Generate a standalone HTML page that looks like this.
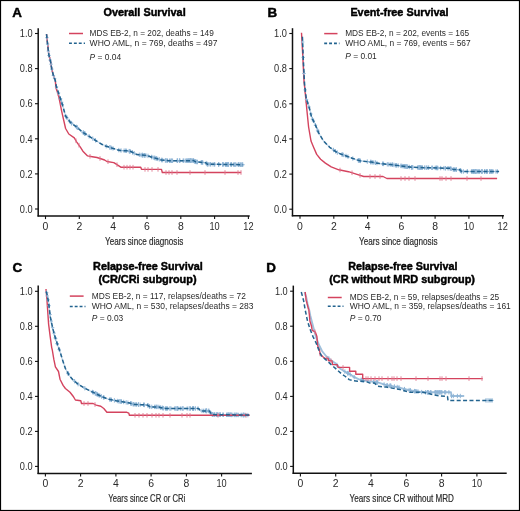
<!DOCTYPE html>
<html><head><meta charset="utf-8"><style>
html,body{margin:0;padding:0;background:#fff;}
svg{display:block;will-change:transform;}
text{font-family:"Liberation Sans", sans-serif;}
</style></head><body>
<svg width="520" height="511" viewBox="0 0 520 511" font-family='"Liberation Sans", sans-serif'>
<rect x="0" y="0" width="520" height="511" fill="#fff"/>
<rect x="0.5" y="0.5" width="519" height="510" fill="none" stroke="#000" stroke-width="1.2"/>
<text x="12.2" y="17.4" font-size="13.4" text-anchor="start" font-weight="bold" font-style="normal" fill="#000" stroke="#000" stroke-width="0.45" stroke-linejoin="round">A</text>
<text x="103.5" y="15.9" font-size="11.0" text-anchor="start" font-weight="bold" font-style="normal" fill="#000" textLength="82.2" lengthAdjust="spacingAndGlyphs" stroke="#000" stroke-width="0.45" stroke-linejoin="round">Overall Survival</text>
<line x1="38.2" y1="28.2" x2="38.2" y2="216.6" stroke="#111" stroke-width="1.5" />
<line x1="37.5" y1="215.9" x2="249.7" y2="215.9" stroke="#111" stroke-width="1.5" />
<line x1="35.0" y1="209.0" x2="38.2" y2="209.0" stroke="#111" stroke-width="1.1" />
<text x="32.6" y="212.7" font-size="10" text-anchor="end" font-weight="normal" font-style="normal" fill="#2a2a2a" textLength="12.8" lengthAdjust="spacingAndGlyphs">0.0</text>
<line x1="35.0" y1="173.9" x2="38.2" y2="173.9" stroke="#111" stroke-width="1.1" />
<text x="32.6" y="177.6" font-size="10" text-anchor="end" font-weight="normal" font-style="normal" fill="#2a2a2a" textLength="12.8" lengthAdjust="spacingAndGlyphs">0.2</text>
<line x1="35.0" y1="138.8" x2="38.2" y2="138.8" stroke="#111" stroke-width="1.1" />
<text x="32.6" y="142.5" font-size="10" text-anchor="end" font-weight="normal" font-style="normal" fill="#2a2a2a" textLength="12.8" lengthAdjust="spacingAndGlyphs">0.4</text>
<line x1="35.0" y1="103.7" x2="38.2" y2="103.7" stroke="#111" stroke-width="1.1" />
<text x="32.6" y="107.4" font-size="10" text-anchor="end" font-weight="normal" font-style="normal" fill="#2a2a2a" textLength="12.8" lengthAdjust="spacingAndGlyphs">0.6</text>
<line x1="35.0" y1="68.6" x2="38.2" y2="68.6" stroke="#111" stroke-width="1.1" />
<text x="32.6" y="72.3" font-size="10" text-anchor="end" font-weight="normal" font-style="normal" fill="#2a2a2a" textLength="12.8" lengthAdjust="spacingAndGlyphs">0.8</text>
<line x1="35.0" y1="33.5" x2="38.2" y2="33.5" stroke="#111" stroke-width="1.1" />
<text x="32.6" y="37.2" font-size="10" text-anchor="end" font-weight="normal" font-style="normal" fill="#2a2a2a" textLength="12.8" lengthAdjust="spacingAndGlyphs">1.0</text>
<line x1="45.5" y1="215.9" x2="45.5" y2="219.1" stroke="#111" stroke-width="1.1" />
<text x="45.5" y="229.9" font-size="10" text-anchor="middle" font-weight="normal" font-style="normal" fill="#2a2a2a" textLength="5.8" lengthAdjust="spacingAndGlyphs">0</text>
<line x1="79.3" y1="215.9" x2="79.3" y2="219.1" stroke="#111" stroke-width="1.1" />
<text x="79.3" y="229.9" font-size="10" text-anchor="middle" font-weight="normal" font-style="normal" fill="#2a2a2a" textLength="5.8" lengthAdjust="spacingAndGlyphs">2</text>
<line x1="113.1" y1="215.9" x2="113.1" y2="219.1" stroke="#111" stroke-width="1.1" />
<text x="113.1" y="229.9" font-size="10" text-anchor="middle" font-weight="normal" font-style="normal" fill="#2a2a2a" textLength="5.8" lengthAdjust="spacingAndGlyphs">4</text>
<line x1="147.0" y1="215.9" x2="147.0" y2="219.1" stroke="#111" stroke-width="1.1" />
<text x="147.0" y="229.9" font-size="10" text-anchor="middle" font-weight="normal" font-style="normal" fill="#2a2a2a" textLength="5.8" lengthAdjust="spacingAndGlyphs">6</text>
<line x1="180.8" y1="215.9" x2="180.8" y2="219.1" stroke="#111" stroke-width="1.1" />
<text x="180.8" y="229.9" font-size="10" text-anchor="middle" font-weight="normal" font-style="normal" fill="#2a2a2a" textLength="5.8" lengthAdjust="spacingAndGlyphs">8</text>
<line x1="214.6" y1="215.9" x2="214.6" y2="219.1" stroke="#111" stroke-width="1.1" />
<text x="214.6" y="229.9" font-size="10" text-anchor="middle" font-weight="normal" font-style="normal" fill="#2a2a2a" textLength="10.2" lengthAdjust="spacingAndGlyphs">10</text>
<line x1="248.4" y1="215.9" x2="248.4" y2="219.1" stroke="#111" stroke-width="1.1" />
<text x="248.4" y="229.9" font-size="10" text-anchor="middle" font-weight="normal" font-style="normal" fill="#2a2a2a" textLength="10.2" lengthAdjust="spacingAndGlyphs">12</text>
<text x="144.2" y="244.6" font-size="11.2" text-anchor="middle" font-weight="normal" font-style="normal" fill="#2a2a2a" textLength="78.2" lengthAdjust="spacingAndGlyphs" stroke="#2a2a2a" stroke-width="0.2" stroke-linejoin="round">Years since diagnosis</text>
<line x1="69" y1="33.5" x2="83" y2="33.5" stroke="#d4435e" stroke-width="1.5" />
<line x1="69" y1="43.3" x2="85" y2="43.3" stroke="#22638f" stroke-width="1.6" stroke-dasharray="2.9 2"/>
<text x="89.6" y="35.9" font-size="8.5" text-anchor="start" font-weight="normal" font-style="normal" fill="#2a2a2a" textLength="124.2" lengthAdjust="spacingAndGlyphs">MDS EB-2, n = 202, deaths = 149</text>
<text x="89.6" y="45.9" font-size="8.5" text-anchor="start" font-weight="normal" font-style="normal" fill="#2a2a2a" textLength="127.9" lengthAdjust="spacingAndGlyphs">WHO AML, n = 769, deaths = 497</text>
<text x="89.6" y="59.5" font-size="8.5" text-anchor="start" font-weight="normal" font-style="normal" fill="#2a2a2a" textLength="31.6" lengthAdjust="spacingAndGlyphs"><tspan font-style="italic">P</tspan> = 0.04</text>
<path d="M46.5,34.1 L47.6,44.1 L48.8,54.6 L50.6,61.7 L51.7,68.7 L53.5,75.8 L55.3,80.5 L56.3,86.3 L59.4,95.6 L62.5,105.0 L65.6,116.0 L70.3,122.3 L76.6,127.0 L82.9,132.4 L89.1,136.3 L95.4,140.3 L101.6,144.2 L106.2,146.2 L112.3,148.2 L120.0,150.5 L127.7,150.8 L130.8,151.5 L136.9,154.6 L146.2,155.4 L153.8,157.7 L161.5,160.0 L169.2,160.8 L193.5,160.6 L195.8,161.9 L205.8,162.7 L207.3,164.2 L243.0,164.7" fill="none" stroke="#c3d8ea" stroke-width="1.3" stroke-linejoin="round" />
<line x1="60.4" y1="96.5" x2="60.4" y2="100.9" stroke="#8fb5d6" stroke-width="1.0" />
<line x1="58.7" y1="98.7" x2="62.1" y2="98.7" stroke="#8fb5d6" stroke-width="1.0" />
<line x1="61.6" y1="100.0" x2="61.6" y2="104.4" stroke="#8fb5d6" stroke-width="1.0" />
<line x1="59.9" y1="102.2" x2="63.3" y2="102.2" stroke="#8fb5d6" stroke-width="1.0" />
<line x1="65.8" y1="114.0" x2="65.8" y2="118.4" stroke="#8fb5d6" stroke-width="1.0" />
<line x1="64.1" y1="116.2" x2="67.5" y2="116.2" stroke="#8fb5d6" stroke-width="1.0" />
<line x1="66.9" y1="115.6" x2="66.9" y2="120.0" stroke="#8fb5d6" stroke-width="1.0" />
<line x1="65.2" y1="117.8" x2="68.6" y2="117.8" stroke="#8fb5d6" stroke-width="1.0" />
<line x1="69.4" y1="118.9" x2="69.4" y2="123.3" stroke="#8fb5d6" stroke-width="1.0" />
<line x1="67.7" y1="121.1" x2="71.1" y2="121.1" stroke="#8fb5d6" stroke-width="1.0" />
<line x1="71.4" y1="120.9" x2="71.4" y2="125.3" stroke="#8fb5d6" stroke-width="1.0" />
<line x1="69.7" y1="123.1" x2="73.1" y2="123.1" stroke="#8fb5d6" stroke-width="1.0" />
<line x1="71.6" y1="121.0" x2="71.6" y2="125.4" stroke="#8fb5d6" stroke-width="1.0" />
<line x1="69.9" y1="123.2" x2="73.3" y2="123.2" stroke="#8fb5d6" stroke-width="1.0" />
<line x1="76.4" y1="124.7" x2="76.4" y2="129.1" stroke="#8fb5d6" stroke-width="1.0" />
<line x1="74.7" y1="126.9" x2="78.1" y2="126.9" stroke="#8fb5d6" stroke-width="1.0" />
<line x1="77.2" y1="125.3" x2="77.2" y2="129.7" stroke="#8fb5d6" stroke-width="1.0" />
<line x1="75.5" y1="127.5" x2="78.9" y2="127.5" stroke="#8fb5d6" stroke-width="1.0" />
<line x1="77.5" y1="125.5" x2="77.5" y2="129.9" stroke="#8fb5d6" stroke-width="1.0" />
<line x1="75.8" y1="127.7" x2="79.2" y2="127.7" stroke="#8fb5d6" stroke-width="1.0" />
<line x1="83.3" y1="130.4" x2="83.3" y2="134.8" stroke="#8fb5d6" stroke-width="1.0" />
<line x1="81.6" y1="132.6" x2="85.0" y2="132.6" stroke="#8fb5d6" stroke-width="1.0" />
<line x1="83.4" y1="130.5" x2="83.4" y2="134.9" stroke="#8fb5d6" stroke-width="1.0" />
<line x1="81.7" y1="132.7" x2="85.1" y2="132.7" stroke="#8fb5d6" stroke-width="1.0" />
<line x1="84.5" y1="131.2" x2="84.5" y2="135.6" stroke="#8fb5d6" stroke-width="1.0" />
<line x1="82.8" y1="133.4" x2="86.2" y2="133.4" stroke="#8fb5d6" stroke-width="1.0" />
<line x1="84.7" y1="131.3" x2="84.7" y2="135.7" stroke="#8fb5d6" stroke-width="1.0" />
<line x1="83.0" y1="133.5" x2="86.4" y2="133.5" stroke="#8fb5d6" stroke-width="1.0" />
<line x1="85.2" y1="131.6" x2="85.2" y2="136.0" stroke="#8fb5d6" stroke-width="1.0" />
<line x1="83.5" y1="133.8" x2="86.9" y2="133.8" stroke="#8fb5d6" stroke-width="1.0" />
<line x1="89.1" y1="134.1" x2="89.1" y2="138.5" stroke="#8fb5d6" stroke-width="1.0" />
<line x1="87.4" y1="136.3" x2="90.8" y2="136.3" stroke="#8fb5d6" stroke-width="1.0" />
<line x1="92.8" y1="136.4" x2="92.8" y2="140.8" stroke="#8fb5d6" stroke-width="1.0" />
<line x1="91.1" y1="138.6" x2="94.5" y2="138.6" stroke="#8fb5d6" stroke-width="1.0" />
<line x1="95.5" y1="138.1" x2="95.5" y2="142.5" stroke="#8fb5d6" stroke-width="1.0" />
<line x1="93.8" y1="140.3" x2="97.2" y2="140.3" stroke="#8fb5d6" stroke-width="1.0" />
<line x1="106.2" y1="144.0" x2="106.2" y2="148.4" stroke="#8fb5d6" stroke-width="1.0" />
<line x1="104.5" y1="146.2" x2="107.9" y2="146.2" stroke="#8fb5d6" stroke-width="1.0" />
<line x1="109.9" y1="145.2" x2="109.9" y2="149.6" stroke="#8fb5d6" stroke-width="1.0" />
<line x1="108.2" y1="147.4" x2="111.6" y2="147.4" stroke="#8fb5d6" stroke-width="1.0" />
<line x1="110.0" y1="145.2" x2="110.0" y2="149.6" stroke="#8fb5d6" stroke-width="1.0" />
<line x1="108.3" y1="147.4" x2="111.7" y2="147.4" stroke="#8fb5d6" stroke-width="1.0" />
<line x1="111.3" y1="145.7" x2="111.3" y2="150.1" stroke="#8fb5d6" stroke-width="1.0" />
<line x1="109.6" y1="147.9" x2="113.0" y2="147.9" stroke="#8fb5d6" stroke-width="1.0" />
<line x1="113.0" y1="146.2" x2="113.0" y2="150.6" stroke="#8fb5d6" stroke-width="1.0" />
<line x1="111.3" y1="148.4" x2="114.7" y2="148.4" stroke="#8fb5d6" stroke-width="1.0" />
<line x1="118.8" y1="147.9" x2="118.8" y2="152.3" stroke="#8fb5d6" stroke-width="1.0" />
<line x1="117.1" y1="150.1" x2="120.5" y2="150.1" stroke="#8fb5d6" stroke-width="1.0" />
<line x1="121.0" y1="148.3" x2="121.0" y2="152.7" stroke="#8fb5d6" stroke-width="1.0" />
<line x1="119.3" y1="150.5" x2="122.7" y2="150.5" stroke="#8fb5d6" stroke-width="1.0" />
<line x1="124.1" y1="148.5" x2="124.1" y2="152.9" stroke="#8fb5d6" stroke-width="1.0" />
<line x1="122.4" y1="150.7" x2="125.8" y2="150.7" stroke="#8fb5d6" stroke-width="1.0" />
<line x1="125.4" y1="148.5" x2="125.4" y2="152.9" stroke="#8fb5d6" stroke-width="1.0" />
<line x1="123.7" y1="150.7" x2="127.1" y2="150.7" stroke="#8fb5d6" stroke-width="1.0" />
<line x1="126.6" y1="148.6" x2="126.6" y2="153.0" stroke="#8fb5d6" stroke-width="1.0" />
<line x1="124.9" y1="150.8" x2="128.3" y2="150.8" stroke="#8fb5d6" stroke-width="1.0" />
<line x1="129.1" y1="148.9" x2="129.1" y2="153.3" stroke="#8fb5d6" stroke-width="1.0" />
<line x1="127.4" y1="151.1" x2="130.8" y2="151.1" stroke="#8fb5d6" stroke-width="1.0" />
<line x1="129.8" y1="149.1" x2="129.8" y2="153.5" stroke="#8fb5d6" stroke-width="1.0" />
<line x1="128.1" y1="151.3" x2="131.5" y2="151.3" stroke="#8fb5d6" stroke-width="1.0" />
<line x1="129.8" y1="149.1" x2="129.8" y2="153.5" stroke="#8fb5d6" stroke-width="1.0" />
<line x1="128.1" y1="151.3" x2="131.5" y2="151.3" stroke="#8fb5d6" stroke-width="1.0" />
<line x1="130.0" y1="149.1" x2="130.0" y2="153.5" stroke="#8fb5d6" stroke-width="1.0" />
<line x1="128.3" y1="151.3" x2="131.7" y2="151.3" stroke="#8fb5d6" stroke-width="1.0" />
<line x1="132.5" y1="150.2" x2="132.5" y2="154.6" stroke="#8fb5d6" stroke-width="1.0" />
<line x1="130.8" y1="152.4" x2="134.2" y2="152.4" stroke="#8fb5d6" stroke-width="1.0" />
<line x1="134.2" y1="151.0" x2="134.2" y2="155.4" stroke="#8fb5d6" stroke-width="1.0" />
<line x1="132.5" y1="153.2" x2="135.9" y2="153.2" stroke="#8fb5d6" stroke-width="1.0" />
<line x1="139.3" y1="152.6" x2="139.3" y2="157.0" stroke="#8fb5d6" stroke-width="1.0" />
<line x1="137.6" y1="154.8" x2="141.0" y2="154.8" stroke="#8fb5d6" stroke-width="1.0" />
<line x1="141.0" y1="152.8" x2="141.0" y2="157.2" stroke="#8fb5d6" stroke-width="1.0" />
<line x1="139.3" y1="155.0" x2="142.7" y2="155.0" stroke="#8fb5d6" stroke-width="1.0" />
<line x1="142.3" y1="152.9" x2="142.3" y2="157.3" stroke="#8fb5d6" stroke-width="1.0" />
<line x1="140.6" y1="155.1" x2="144.0" y2="155.1" stroke="#8fb5d6" stroke-width="1.0" />
<line x1="142.4" y1="152.9" x2="142.4" y2="157.3" stroke="#8fb5d6" stroke-width="1.0" />
<line x1="140.7" y1="155.1" x2="144.1" y2="155.1" stroke="#8fb5d6" stroke-width="1.0" />
<line x1="142.4" y1="152.9" x2="142.4" y2="157.3" stroke="#8fb5d6" stroke-width="1.0" />
<line x1="140.7" y1="155.1" x2="144.1" y2="155.1" stroke="#8fb5d6" stroke-width="1.0" />
<line x1="142.4" y1="152.9" x2="142.4" y2="157.3" stroke="#8fb5d6" stroke-width="1.0" />
<line x1="140.7" y1="155.1" x2="144.1" y2="155.1" stroke="#8fb5d6" stroke-width="1.0" />
<line x1="144.0" y1="153.0" x2="144.0" y2="157.4" stroke="#8fb5d6" stroke-width="1.0" />
<line x1="142.3" y1="155.2" x2="145.7" y2="155.2" stroke="#8fb5d6" stroke-width="1.0" />
<line x1="144.1" y1="153.0" x2="144.1" y2="157.4" stroke="#8fb5d6" stroke-width="1.0" />
<line x1="142.4" y1="155.2" x2="145.8" y2="155.2" stroke="#8fb5d6" stroke-width="1.0" />
<line x1="144.6" y1="153.1" x2="144.6" y2="157.5" stroke="#8fb5d6" stroke-width="1.0" />
<line x1="142.9" y1="155.3" x2="146.3" y2="155.3" stroke="#8fb5d6" stroke-width="1.0" />
<line x1="144.8" y1="153.1" x2="144.8" y2="157.5" stroke="#8fb5d6" stroke-width="1.0" />
<line x1="143.1" y1="155.3" x2="146.5" y2="155.3" stroke="#8fb5d6" stroke-width="1.0" />
<line x1="145.9" y1="153.2" x2="145.9" y2="157.6" stroke="#8fb5d6" stroke-width="1.0" />
<line x1="144.2" y1="155.4" x2="147.6" y2="155.4" stroke="#8fb5d6" stroke-width="1.0" />
<line x1="148.0" y1="153.7" x2="148.0" y2="158.1" stroke="#8fb5d6" stroke-width="1.0" />
<line x1="146.3" y1="155.9" x2="149.7" y2="155.9" stroke="#8fb5d6" stroke-width="1.0" />
<line x1="151.6" y1="154.8" x2="151.6" y2="159.2" stroke="#8fb5d6" stroke-width="1.0" />
<line x1="149.9" y1="157.0" x2="153.3" y2="157.0" stroke="#8fb5d6" stroke-width="1.0" />
<line x1="151.9" y1="154.9" x2="151.9" y2="159.3" stroke="#8fb5d6" stroke-width="1.0" />
<line x1="150.2" y1="157.1" x2="153.6" y2="157.1" stroke="#8fb5d6" stroke-width="1.0" />
<line x1="153.9" y1="155.5" x2="153.9" y2="159.9" stroke="#8fb5d6" stroke-width="1.0" />
<line x1="152.2" y1="157.7" x2="155.6" y2="157.7" stroke="#8fb5d6" stroke-width="1.0" />
<line x1="154.8" y1="155.8" x2="154.8" y2="160.2" stroke="#8fb5d6" stroke-width="1.0" />
<line x1="153.1" y1="158.0" x2="156.5" y2="158.0" stroke="#8fb5d6" stroke-width="1.0" />
<line x1="154.9" y1="155.8" x2="154.9" y2="160.2" stroke="#8fb5d6" stroke-width="1.0" />
<line x1="153.2" y1="158.0" x2="156.6" y2="158.0" stroke="#8fb5d6" stroke-width="1.0" />
<line x1="156.2" y1="156.2" x2="156.2" y2="160.6" stroke="#8fb5d6" stroke-width="1.0" />
<line x1="154.5" y1="158.4" x2="157.9" y2="158.4" stroke="#8fb5d6" stroke-width="1.0" />
<line x1="156.3" y1="156.2" x2="156.3" y2="160.6" stroke="#8fb5d6" stroke-width="1.0" />
<line x1="154.6" y1="158.4" x2="158.0" y2="158.4" stroke="#8fb5d6" stroke-width="1.0" />
<line x1="157.7" y1="156.7" x2="157.7" y2="161.1" stroke="#8fb5d6" stroke-width="1.0" />
<line x1="156.0" y1="158.9" x2="159.4" y2="158.9" stroke="#8fb5d6" stroke-width="1.0" />
<line x1="159.3" y1="157.1" x2="159.3" y2="161.5" stroke="#8fb5d6" stroke-width="1.0" />
<line x1="157.6" y1="159.3" x2="161.0" y2="159.3" stroke="#8fb5d6" stroke-width="1.0" />
<line x1="161.4" y1="157.8" x2="161.4" y2="162.2" stroke="#8fb5d6" stroke-width="1.0" />
<line x1="159.7" y1="160.0" x2="163.1" y2="160.0" stroke="#8fb5d6" stroke-width="1.0" />
<line x1="161.9" y1="157.8" x2="161.9" y2="162.2" stroke="#8fb5d6" stroke-width="1.0" />
<line x1="160.2" y1="160.0" x2="163.6" y2="160.0" stroke="#8fb5d6" stroke-width="1.0" />
<line x1="162.7" y1="157.9" x2="162.7" y2="162.3" stroke="#8fb5d6" stroke-width="1.0" />
<line x1="161.0" y1="160.1" x2="164.4" y2="160.1" stroke="#8fb5d6" stroke-width="1.0" />
<line x1="165.3" y1="158.2" x2="165.3" y2="162.6" stroke="#8fb5d6" stroke-width="1.0" />
<line x1="163.6" y1="160.4" x2="167.0" y2="160.4" stroke="#8fb5d6" stroke-width="1.0" />
<line x1="166.0" y1="158.3" x2="166.0" y2="162.7" stroke="#8fb5d6" stroke-width="1.0" />
<line x1="164.3" y1="160.5" x2="167.7" y2="160.5" stroke="#8fb5d6" stroke-width="1.0" />
<line x1="166.1" y1="158.3" x2="166.1" y2="162.7" stroke="#8fb5d6" stroke-width="1.0" />
<line x1="164.4" y1="160.5" x2="167.8" y2="160.5" stroke="#8fb5d6" stroke-width="1.0" />
<line x1="167.5" y1="158.4" x2="167.5" y2="162.8" stroke="#8fb5d6" stroke-width="1.0" />
<line x1="165.8" y1="160.6" x2="169.2" y2="160.6" stroke="#8fb5d6" stroke-width="1.0" />
<line x1="169.4" y1="158.6" x2="169.4" y2="163.0" stroke="#8fb5d6" stroke-width="1.0" />
<line x1="167.7" y1="160.8" x2="171.1" y2="160.8" stroke="#8fb5d6" stroke-width="1.0" />
<line x1="170.1" y1="158.6" x2="170.1" y2="163.0" stroke="#8fb5d6" stroke-width="1.0" />
<line x1="168.4" y1="160.8" x2="171.8" y2="160.8" stroke="#8fb5d6" stroke-width="1.0" />
<line x1="171.0" y1="158.6" x2="171.0" y2="163.0" stroke="#8fb5d6" stroke-width="1.0" />
<line x1="169.3" y1="160.8" x2="172.7" y2="160.8" stroke="#8fb5d6" stroke-width="1.0" />
<line x1="171.6" y1="158.6" x2="171.6" y2="163.0" stroke="#8fb5d6" stroke-width="1.0" />
<line x1="169.9" y1="160.8" x2="173.3" y2="160.8" stroke="#8fb5d6" stroke-width="1.0" />
<line x1="172.0" y1="158.6" x2="172.0" y2="163.0" stroke="#8fb5d6" stroke-width="1.0" />
<line x1="170.3" y1="160.8" x2="173.7" y2="160.8" stroke="#8fb5d6" stroke-width="1.0" />
<line x1="172.6" y1="158.6" x2="172.6" y2="163.0" stroke="#8fb5d6" stroke-width="1.0" />
<line x1="170.9" y1="160.8" x2="174.3" y2="160.8" stroke="#8fb5d6" stroke-width="1.0" />
<line x1="177.2" y1="158.5" x2="177.2" y2="162.9" stroke="#8fb5d6" stroke-width="1.0" />
<line x1="175.5" y1="160.7" x2="178.9" y2="160.7" stroke="#8fb5d6" stroke-width="1.0" />
<line x1="177.4" y1="158.5" x2="177.4" y2="162.9" stroke="#8fb5d6" stroke-width="1.0" />
<line x1="175.7" y1="160.7" x2="179.1" y2="160.7" stroke="#8fb5d6" stroke-width="1.0" />
<line x1="177.4" y1="158.5" x2="177.4" y2="162.9" stroke="#8fb5d6" stroke-width="1.0" />
<line x1="175.7" y1="160.7" x2="179.1" y2="160.7" stroke="#8fb5d6" stroke-width="1.0" />
<line x1="179.4" y1="158.5" x2="179.4" y2="162.9" stroke="#8fb5d6" stroke-width="1.0" />
<line x1="177.7" y1="160.7" x2="181.1" y2="160.7" stroke="#8fb5d6" stroke-width="1.0" />
<line x1="179.6" y1="158.5" x2="179.6" y2="162.9" stroke="#8fb5d6" stroke-width="1.0" />
<line x1="177.9" y1="160.7" x2="181.3" y2="160.7" stroke="#8fb5d6" stroke-width="1.0" />
<line x1="179.9" y1="158.5" x2="179.9" y2="162.9" stroke="#8fb5d6" stroke-width="1.0" />
<line x1="178.2" y1="160.7" x2="181.6" y2="160.7" stroke="#8fb5d6" stroke-width="1.0" />
<line x1="183.1" y1="158.5" x2="183.1" y2="162.9" stroke="#8fb5d6" stroke-width="1.0" />
<line x1="181.4" y1="160.7" x2="184.8" y2="160.7" stroke="#8fb5d6" stroke-width="1.0" />
<line x1="183.7" y1="158.5" x2="183.7" y2="162.9" stroke="#8fb5d6" stroke-width="1.0" />
<line x1="182.0" y1="160.7" x2="185.4" y2="160.7" stroke="#8fb5d6" stroke-width="1.0" />
<line x1="185.3" y1="158.5" x2="185.3" y2="162.9" stroke="#8fb5d6" stroke-width="1.0" />
<line x1="183.6" y1="160.7" x2="187.0" y2="160.7" stroke="#8fb5d6" stroke-width="1.0" />
<line x1="186.8" y1="158.5" x2="186.8" y2="162.9" stroke="#8fb5d6" stroke-width="1.0" />
<line x1="185.1" y1="160.7" x2="188.5" y2="160.7" stroke="#8fb5d6" stroke-width="1.0" />
<line x1="186.8" y1="158.5" x2="186.8" y2="162.9" stroke="#8fb5d6" stroke-width="1.0" />
<line x1="185.1" y1="160.7" x2="188.5" y2="160.7" stroke="#8fb5d6" stroke-width="1.0" />
<line x1="187.4" y1="158.5" x2="187.4" y2="162.9" stroke="#8fb5d6" stroke-width="1.0" />
<line x1="185.7" y1="160.7" x2="189.1" y2="160.7" stroke="#8fb5d6" stroke-width="1.0" />
<line x1="188.4" y1="158.4" x2="188.4" y2="162.8" stroke="#8fb5d6" stroke-width="1.0" />
<line x1="186.7" y1="160.6" x2="190.1" y2="160.6" stroke="#8fb5d6" stroke-width="1.0" />
<line x1="189.0" y1="158.4" x2="189.0" y2="162.8" stroke="#8fb5d6" stroke-width="1.0" />
<line x1="187.3" y1="160.6" x2="190.7" y2="160.6" stroke="#8fb5d6" stroke-width="1.0" />
<line x1="189.1" y1="158.4" x2="189.1" y2="162.8" stroke="#8fb5d6" stroke-width="1.0" />
<line x1="187.4" y1="160.6" x2="190.8" y2="160.6" stroke="#8fb5d6" stroke-width="1.0" />
<line x1="190.0" y1="158.4" x2="190.0" y2="162.8" stroke="#8fb5d6" stroke-width="1.0" />
<line x1="188.3" y1="160.6" x2="191.7" y2="160.6" stroke="#8fb5d6" stroke-width="1.0" />
<line x1="190.2" y1="158.4" x2="190.2" y2="162.8" stroke="#8fb5d6" stroke-width="1.0" />
<line x1="188.5" y1="160.6" x2="191.9" y2="160.6" stroke="#8fb5d6" stroke-width="1.0" />
<line x1="190.6" y1="158.4" x2="190.6" y2="162.8" stroke="#8fb5d6" stroke-width="1.0" />
<line x1="188.9" y1="160.6" x2="192.3" y2="160.6" stroke="#8fb5d6" stroke-width="1.0" />
<line x1="190.6" y1="158.4" x2="190.6" y2="162.8" stroke="#8fb5d6" stroke-width="1.0" />
<line x1="188.9" y1="160.6" x2="192.3" y2="160.6" stroke="#8fb5d6" stroke-width="1.0" />
<line x1="191.2" y1="158.4" x2="191.2" y2="162.8" stroke="#8fb5d6" stroke-width="1.0" />
<line x1="189.5" y1="160.6" x2="192.9" y2="160.6" stroke="#8fb5d6" stroke-width="1.0" />
<line x1="191.8" y1="158.4" x2="191.8" y2="162.8" stroke="#8fb5d6" stroke-width="1.0" />
<line x1="190.1" y1="160.6" x2="193.5" y2="160.6" stroke="#8fb5d6" stroke-width="1.0" />
<line x1="192.8" y1="158.4" x2="192.8" y2="162.8" stroke="#8fb5d6" stroke-width="1.0" />
<line x1="191.1" y1="160.6" x2="194.5" y2="160.6" stroke="#8fb5d6" stroke-width="1.0" />
<line x1="193.3" y1="158.4" x2="193.3" y2="162.8" stroke="#8fb5d6" stroke-width="1.0" />
<line x1="191.6" y1="160.6" x2="195.0" y2="160.6" stroke="#8fb5d6" stroke-width="1.0" />
<line x1="193.5" y1="158.4" x2="193.5" y2="162.8" stroke="#8fb5d6" stroke-width="1.0" />
<line x1="191.8" y1="160.6" x2="195.2" y2="160.6" stroke="#8fb5d6" stroke-width="1.0" />
<line x1="194.1" y1="158.8" x2="194.1" y2="163.2" stroke="#8fb5d6" stroke-width="1.0" />
<line x1="192.4" y1="161.0" x2="195.8" y2="161.0" stroke="#8fb5d6" stroke-width="1.0" />
<line x1="194.9" y1="159.2" x2="194.9" y2="163.6" stroke="#8fb5d6" stroke-width="1.0" />
<line x1="193.2" y1="161.4" x2="196.6" y2="161.4" stroke="#8fb5d6" stroke-width="1.0" />
<line x1="195.1" y1="159.3" x2="195.1" y2="163.7" stroke="#8fb5d6" stroke-width="1.0" />
<line x1="193.4" y1="161.5" x2="196.8" y2="161.5" stroke="#8fb5d6" stroke-width="1.0" />
<line x1="195.2" y1="159.3" x2="195.2" y2="163.7" stroke="#8fb5d6" stroke-width="1.0" />
<line x1="193.5" y1="161.5" x2="196.9" y2="161.5" stroke="#8fb5d6" stroke-width="1.0" />
<line x1="195.9" y1="159.7" x2="195.9" y2="164.1" stroke="#8fb5d6" stroke-width="1.0" />
<line x1="194.2" y1="161.9" x2="197.6" y2="161.9" stroke="#8fb5d6" stroke-width="1.0" />
<line x1="196.2" y1="159.7" x2="196.2" y2="164.1" stroke="#8fb5d6" stroke-width="1.0" />
<line x1="194.5" y1="161.9" x2="197.9" y2="161.9" stroke="#8fb5d6" stroke-width="1.0" />
<line x1="196.8" y1="159.8" x2="196.8" y2="164.2" stroke="#8fb5d6" stroke-width="1.0" />
<line x1="195.1" y1="162.0" x2="198.5" y2="162.0" stroke="#8fb5d6" stroke-width="1.0" />
<line x1="197.5" y1="159.8" x2="197.5" y2="164.2" stroke="#8fb5d6" stroke-width="1.0" />
<line x1="195.8" y1="162.0" x2="199.2" y2="162.0" stroke="#8fb5d6" stroke-width="1.0" />
<line x1="201.3" y1="160.1" x2="201.3" y2="164.5" stroke="#8fb5d6" stroke-width="1.0" />
<line x1="199.6" y1="162.3" x2="203.0" y2="162.3" stroke="#8fb5d6" stroke-width="1.0" />
<line x1="201.3" y1="160.1" x2="201.3" y2="164.5" stroke="#8fb5d6" stroke-width="1.0" />
<line x1="199.6" y1="162.3" x2="203.0" y2="162.3" stroke="#8fb5d6" stroke-width="1.0" />
<line x1="202.0" y1="160.2" x2="202.0" y2="164.6" stroke="#8fb5d6" stroke-width="1.0" />
<line x1="200.3" y1="162.4" x2="203.7" y2="162.4" stroke="#8fb5d6" stroke-width="1.0" />
<line x1="202.4" y1="160.2" x2="202.4" y2="164.6" stroke="#8fb5d6" stroke-width="1.0" />
<line x1="200.7" y1="162.4" x2="204.1" y2="162.4" stroke="#8fb5d6" stroke-width="1.0" />
<line x1="202.8" y1="160.3" x2="202.8" y2="164.7" stroke="#8fb5d6" stroke-width="1.0" />
<line x1="201.1" y1="162.5" x2="204.5" y2="162.5" stroke="#8fb5d6" stroke-width="1.0" />
<line x1="206.2" y1="160.9" x2="206.2" y2="165.3" stroke="#8fb5d6" stroke-width="1.0" />
<line x1="204.5" y1="163.1" x2="207.9" y2="163.1" stroke="#8fb5d6" stroke-width="1.0" />
<line x1="207.1" y1="161.8" x2="207.1" y2="166.2" stroke="#8fb5d6" stroke-width="1.0" />
<line x1="205.4" y1="164.0" x2="208.8" y2="164.0" stroke="#8fb5d6" stroke-width="1.0" />
<line x1="207.1" y1="161.8" x2="207.1" y2="166.2" stroke="#8fb5d6" stroke-width="1.0" />
<line x1="205.4" y1="164.0" x2="208.8" y2="164.0" stroke="#8fb5d6" stroke-width="1.0" />
<line x1="207.7" y1="162.0" x2="207.7" y2="166.4" stroke="#8fb5d6" stroke-width="1.0" />
<line x1="206.0" y1="164.2" x2="209.4" y2="164.2" stroke="#8fb5d6" stroke-width="1.0" />
<line x1="207.8" y1="162.0" x2="207.8" y2="166.4" stroke="#8fb5d6" stroke-width="1.0" />
<line x1="206.1" y1="164.2" x2="209.5" y2="164.2" stroke="#8fb5d6" stroke-width="1.0" />
<line x1="208.0" y1="162.0" x2="208.0" y2="166.4" stroke="#8fb5d6" stroke-width="1.0" />
<line x1="206.3" y1="164.2" x2="209.7" y2="164.2" stroke="#8fb5d6" stroke-width="1.0" />
<line x1="210.0" y1="162.0" x2="210.0" y2="166.4" stroke="#8fb5d6" stroke-width="1.0" />
<line x1="208.3" y1="164.2" x2="211.7" y2="164.2" stroke="#8fb5d6" stroke-width="1.0" />
<line x1="210.3" y1="162.0" x2="210.3" y2="166.4" stroke="#8fb5d6" stroke-width="1.0" />
<line x1="208.6" y1="164.2" x2="212.0" y2="164.2" stroke="#8fb5d6" stroke-width="1.0" />
<line x1="210.8" y1="162.0" x2="210.8" y2="166.4" stroke="#8fb5d6" stroke-width="1.0" />
<line x1="209.1" y1="164.2" x2="212.5" y2="164.2" stroke="#8fb5d6" stroke-width="1.0" />
<line x1="213.0" y1="162.1" x2="213.0" y2="166.5" stroke="#8fb5d6" stroke-width="1.0" />
<line x1="211.3" y1="164.3" x2="214.7" y2="164.3" stroke="#8fb5d6" stroke-width="1.0" />
<line x1="214.4" y1="162.1" x2="214.4" y2="166.5" stroke="#8fb5d6" stroke-width="1.0" />
<line x1="212.7" y1="164.3" x2="216.1" y2="164.3" stroke="#8fb5d6" stroke-width="1.0" />
<line x1="214.8" y1="162.1" x2="214.8" y2="166.5" stroke="#8fb5d6" stroke-width="1.0" />
<line x1="213.1" y1="164.3" x2="216.5" y2="164.3" stroke="#8fb5d6" stroke-width="1.0" />
<line x1="218.5" y1="162.2" x2="218.5" y2="166.6" stroke="#8fb5d6" stroke-width="1.0" />
<line x1="216.8" y1="164.4" x2="220.2" y2="164.4" stroke="#8fb5d6" stroke-width="1.0" />
<line x1="218.6" y1="162.2" x2="218.6" y2="166.6" stroke="#8fb5d6" stroke-width="1.0" />
<line x1="216.9" y1="164.4" x2="220.3" y2="164.4" stroke="#8fb5d6" stroke-width="1.0" />
<line x1="218.9" y1="162.2" x2="218.9" y2="166.6" stroke="#8fb5d6" stroke-width="1.0" />
<line x1="217.2" y1="164.4" x2="220.6" y2="164.4" stroke="#8fb5d6" stroke-width="1.0" />
<line x1="222.5" y1="162.2" x2="222.5" y2="166.6" stroke="#8fb5d6" stroke-width="1.0" />
<line x1="220.8" y1="164.4" x2="224.2" y2="164.4" stroke="#8fb5d6" stroke-width="1.0" />
<line x1="223.1" y1="162.2" x2="223.1" y2="166.6" stroke="#8fb5d6" stroke-width="1.0" />
<line x1="221.4" y1="164.4" x2="224.8" y2="164.4" stroke="#8fb5d6" stroke-width="1.0" />
<line x1="223.2" y1="162.2" x2="223.2" y2="166.6" stroke="#8fb5d6" stroke-width="1.0" />
<line x1="221.5" y1="164.4" x2="224.9" y2="164.4" stroke="#8fb5d6" stroke-width="1.0" />
<line x1="225.3" y1="162.3" x2="225.3" y2="166.7" stroke="#8fb5d6" stroke-width="1.0" />
<line x1="223.6" y1="164.5" x2="227.0" y2="164.5" stroke="#8fb5d6" stroke-width="1.0" />
<line x1="225.6" y1="162.3" x2="225.6" y2="166.7" stroke="#8fb5d6" stroke-width="1.0" />
<line x1="223.9" y1="164.5" x2="227.3" y2="164.5" stroke="#8fb5d6" stroke-width="1.0" />
<line x1="226.1" y1="162.3" x2="226.1" y2="166.7" stroke="#8fb5d6" stroke-width="1.0" />
<line x1="224.4" y1="164.5" x2="227.8" y2="164.5" stroke="#8fb5d6" stroke-width="1.0" />
<line x1="226.7" y1="162.3" x2="226.7" y2="166.7" stroke="#8fb5d6" stroke-width="1.0" />
<line x1="225.0" y1="164.5" x2="228.4" y2="164.5" stroke="#8fb5d6" stroke-width="1.0" />
<line x1="227.0" y1="162.3" x2="227.0" y2="166.7" stroke="#8fb5d6" stroke-width="1.0" />
<line x1="225.3" y1="164.5" x2="228.7" y2="164.5" stroke="#8fb5d6" stroke-width="1.0" />
<line x1="227.0" y1="162.3" x2="227.0" y2="166.7" stroke="#8fb5d6" stroke-width="1.0" />
<line x1="225.3" y1="164.5" x2="228.7" y2="164.5" stroke="#8fb5d6" stroke-width="1.0" />
<line x1="227.6" y1="162.3" x2="227.6" y2="166.7" stroke="#8fb5d6" stroke-width="1.0" />
<line x1="225.9" y1="164.5" x2="229.3" y2="164.5" stroke="#8fb5d6" stroke-width="1.0" />
<line x1="228.4" y1="162.3" x2="228.4" y2="166.7" stroke="#8fb5d6" stroke-width="1.0" />
<line x1="226.7" y1="164.5" x2="230.1" y2="164.5" stroke="#8fb5d6" stroke-width="1.0" />
<line x1="228.4" y1="162.3" x2="228.4" y2="166.7" stroke="#8fb5d6" stroke-width="1.0" />
<line x1="226.7" y1="164.5" x2="230.1" y2="164.5" stroke="#8fb5d6" stroke-width="1.0" />
<line x1="228.6" y1="162.3" x2="228.6" y2="166.7" stroke="#8fb5d6" stroke-width="1.0" />
<line x1="226.9" y1="164.5" x2="230.3" y2="164.5" stroke="#8fb5d6" stroke-width="1.0" />
<line x1="230.6" y1="162.3" x2="230.6" y2="166.7" stroke="#8fb5d6" stroke-width="1.0" />
<line x1="228.9" y1="164.5" x2="232.3" y2="164.5" stroke="#8fb5d6" stroke-width="1.0" />
<line x1="231.5" y1="162.3" x2="231.5" y2="166.7" stroke="#8fb5d6" stroke-width="1.0" />
<line x1="229.8" y1="164.5" x2="233.2" y2="164.5" stroke="#8fb5d6" stroke-width="1.0" />
<line x1="231.6" y1="162.3" x2="231.6" y2="166.7" stroke="#8fb5d6" stroke-width="1.0" />
<line x1="229.9" y1="164.5" x2="233.3" y2="164.5" stroke="#8fb5d6" stroke-width="1.0" />
<line x1="233.6" y1="162.4" x2="233.6" y2="166.8" stroke="#8fb5d6" stroke-width="1.0" />
<line x1="231.9" y1="164.6" x2="235.3" y2="164.6" stroke="#8fb5d6" stroke-width="1.0" />
<line x1="234.5" y1="162.4" x2="234.5" y2="166.8" stroke="#8fb5d6" stroke-width="1.0" />
<line x1="232.8" y1="164.6" x2="236.2" y2="164.6" stroke="#8fb5d6" stroke-width="1.0" />
<line x1="235.3" y1="162.4" x2="235.3" y2="166.8" stroke="#8fb5d6" stroke-width="1.0" />
<line x1="233.6" y1="164.6" x2="237.0" y2="164.6" stroke="#8fb5d6" stroke-width="1.0" />
<line x1="235.9" y1="162.4" x2="235.9" y2="166.8" stroke="#8fb5d6" stroke-width="1.0" />
<line x1="234.2" y1="164.6" x2="237.6" y2="164.6" stroke="#8fb5d6" stroke-width="1.0" />
<line x1="238.1" y1="162.4" x2="238.1" y2="166.8" stroke="#8fb5d6" stroke-width="1.0" />
<line x1="236.4" y1="164.6" x2="239.8" y2="164.6" stroke="#8fb5d6" stroke-width="1.0" />
<line x1="238.7" y1="162.4" x2="238.7" y2="166.8" stroke="#8fb5d6" stroke-width="1.0" />
<line x1="237.0" y1="164.6" x2="240.4" y2="164.6" stroke="#8fb5d6" stroke-width="1.0" />
<line x1="238.8" y1="162.4" x2="238.8" y2="166.8" stroke="#8fb5d6" stroke-width="1.0" />
<line x1="237.1" y1="164.6" x2="240.5" y2="164.6" stroke="#8fb5d6" stroke-width="1.0" />
<line x1="238.9" y1="162.4" x2="238.9" y2="166.8" stroke="#8fb5d6" stroke-width="1.0" />
<line x1="237.2" y1="164.6" x2="240.6" y2="164.6" stroke="#8fb5d6" stroke-width="1.0" />
<line x1="240.4" y1="162.5" x2="240.4" y2="166.9" stroke="#8fb5d6" stroke-width="1.0" />
<line x1="238.7" y1="164.7" x2="242.1" y2="164.7" stroke="#8fb5d6" stroke-width="1.0" />
<line x1="240.7" y1="162.5" x2="240.7" y2="166.9" stroke="#8fb5d6" stroke-width="1.0" />
<line x1="239.0" y1="164.7" x2="242.4" y2="164.7" stroke="#8fb5d6" stroke-width="1.0" />
<line x1="241.8" y1="162.5" x2="241.8" y2="166.9" stroke="#8fb5d6" stroke-width="1.0" />
<line x1="240.1" y1="164.7" x2="243.5" y2="164.7" stroke="#8fb5d6" stroke-width="1.0" />
<line x1="241.9" y1="162.5" x2="241.9" y2="166.9" stroke="#8fb5d6" stroke-width="1.0" />
<line x1="240.2" y1="164.7" x2="243.6" y2="164.7" stroke="#8fb5d6" stroke-width="1.0" />
<line x1="242.5" y1="162.5" x2="242.5" y2="166.9" stroke="#8fb5d6" stroke-width="1.0" />
<line x1="240.8" y1="164.7" x2="244.2" y2="164.7" stroke="#8fb5d6" stroke-width="1.0" />
<line x1="242.8" y1="162.5" x2="242.8" y2="166.9" stroke="#8fb5d6" stroke-width="1.0" />
<line x1="241.1" y1="164.7" x2="244.5" y2="164.7" stroke="#8fb5d6" stroke-width="1.0" />
<path d="M46.5,34.1 L47.6,44.1 L48.8,54.6 L50.6,61.7 L51.7,68.7 L53.5,75.8 L55.3,80.5 L55.9,87.8 L58.6,95.6 L61.7,111.3 L65.6,128.5 L68.8,134.0 L74.3,137.9 L76.6,141.8 L80.5,147.3 L82.9,151.2 L87.6,155.9 L92.3,156.7 L97.0,157.5 L101.6,159.0 L104.6,160.0 L106.9,161.5 L113.8,162.6 L116.2,164.2 L118.5,165.7 L120.8,167.2 L140.8,167.2 L141.5,169.4 L161.5,169.4 L162.3,172.5 L241.2,172.5" fill="none" stroke="#d4435e" stroke-width="1.4" stroke-linejoin="round" />
<line x1="48" y1="45.3" x2="48" y2="49.9" stroke="#e07890" stroke-width="0.9" />
<line x1="50" y1="57.0" x2="50" y2="61.6" stroke="#e07890" stroke-width="0.9" />
<line x1="52" y1="67.6" x2="52" y2="72.2" stroke="#e07890" stroke-width="0.9" />
<line x1="58" y1="91.6" x2="58" y2="96.2" stroke="#e07890" stroke-width="0.9" />
<line x1="76" y1="138.5" x2="76" y2="143.1" stroke="#e07890" stroke-width="0.9" />
<line x1="79" y1="142.9" x2="79" y2="147.5" stroke="#e07890" stroke-width="0.9" />
<line x1="90" y1="154.0" x2="90" y2="158.6" stroke="#e07890" stroke-width="0.9" />
<line x1="100" y1="156.2" x2="100" y2="160.8" stroke="#e07890" stroke-width="0.9" />
<line x1="108" y1="159.4" x2="108" y2="164.0" stroke="#e07890" stroke-width="0.9" />
<line x1="117" y1="162.4" x2="117" y2="167.0" stroke="#e07890" stroke-width="0.9" />
<line x1="124" y1="164.9" x2="124" y2="169.5" stroke="#e07890" stroke-width="0.9" />
<line x1="127" y1="164.9" x2="127" y2="169.5" stroke="#e07890" stroke-width="0.9" />
<line x1="130" y1="164.9" x2="130" y2="169.5" stroke="#e07890" stroke-width="0.9" />
<line x1="133" y1="164.9" x2="133" y2="169.5" stroke="#e07890" stroke-width="0.9" />
<line x1="145" y1="167.1" x2="145" y2="171.7" stroke="#e07890" stroke-width="0.9" />
<line x1="148" y1="167.1" x2="148" y2="171.7" stroke="#e07890" stroke-width="0.9" />
<line x1="152" y1="167.1" x2="152" y2="171.7" stroke="#e07890" stroke-width="0.9" />
<line x1="158" y1="167.1" x2="158" y2="171.7" stroke="#e07890" stroke-width="0.9" />
<line x1="166" y1="170.2" x2="166" y2="174.8" stroke="#e07890" stroke-width="0.9" />
<line x1="169" y1="170.2" x2="169" y2="174.8" stroke="#e07890" stroke-width="0.9" />
<line x1="172" y1="170.2" x2="172" y2="174.8" stroke="#e07890" stroke-width="0.9" />
<line x1="177" y1="170.2" x2="177" y2="174.8" stroke="#e07890" stroke-width="0.9" />
<line x1="190" y1="170.2" x2="190" y2="174.8" stroke="#e07890" stroke-width="0.9" />
<line x1="205" y1="170.2" x2="205" y2="174.8" stroke="#e07890" stroke-width="0.9" />
<line x1="225" y1="170.2" x2="225" y2="174.8" stroke="#e07890" stroke-width="0.9" />
<line x1="238" y1="170.2" x2="238" y2="174.8" stroke="#e07890" stroke-width="0.9" />
<line x1="241" y1="170.2" x2="241" y2="174.8" stroke="#e07890" stroke-width="0.9" />
<line x1="46.9" y1="35.5" x2="46.9" y2="39.9" stroke="#8fb5d6" stroke-width="1.0" />
<line x1="45.2" y1="37.7" x2="48.6" y2="37.7" stroke="#8fb5d6" stroke-width="1.0" />
<line x1="47.6" y1="41.9" x2="47.6" y2="46.3" stroke="#8fb5d6" stroke-width="1.0" />
<line x1="45.9" y1="44.1" x2="49.3" y2="44.1" stroke="#8fb5d6" stroke-width="1.0" />
<line x1="48.4" y1="48.9" x2="48.4" y2="53.3" stroke="#8fb5d6" stroke-width="1.0" />
<line x1="46.7" y1="51.1" x2="50.1" y2="51.1" stroke="#8fb5d6" stroke-width="1.0" />
<line x1="49.0" y1="53.2" x2="49.0" y2="57.6" stroke="#8fb5d6" stroke-width="1.0" />
<line x1="47.3" y1="55.4" x2="50.7" y2="55.4" stroke="#8fb5d6" stroke-width="1.0" />
<line x1="50.2" y1="57.9" x2="50.2" y2="62.3" stroke="#8fb5d6" stroke-width="1.0" />
<line x1="48.5" y1="60.1" x2="51.9" y2="60.1" stroke="#8fb5d6" stroke-width="1.0" />
<line x1="51.0" y1="62.0" x2="51.0" y2="66.4" stroke="#8fb5d6" stroke-width="1.0" />
<line x1="49.3" y1="64.2" x2="52.7" y2="64.2" stroke="#8fb5d6" stroke-width="1.0" />
<line x1="51.8" y1="66.9" x2="51.8" y2="71.3" stroke="#8fb5d6" stroke-width="1.0" />
<line x1="50.1" y1="69.1" x2="53.5" y2="69.1" stroke="#8fb5d6" stroke-width="1.0" />
<line x1="53.4" y1="73.2" x2="53.4" y2="77.6" stroke="#8fb5d6" stroke-width="1.0" />
<line x1="51.7" y1="75.4" x2="55.1" y2="75.4" stroke="#8fb5d6" stroke-width="1.0" />
<line x1="54.6" y1="76.5" x2="54.6" y2="80.9" stroke="#8fb5d6" stroke-width="1.0" />
<line x1="52.9" y1="78.7" x2="56.3" y2="78.7" stroke="#8fb5d6" stroke-width="1.0" />
<line x1="56.5" y1="84.7" x2="56.5" y2="89.1" stroke="#8fb5d6" stroke-width="1.0" />
<line x1="54.8" y1="86.9" x2="58.2" y2="86.9" stroke="#8fb5d6" stroke-width="1.0" />
<line x1="58.5" y1="90.7" x2="58.5" y2="95.1" stroke="#8fb5d6" stroke-width="1.0" />
<line x1="56.8" y1="92.9" x2="60.2" y2="92.9" stroke="#8fb5d6" stroke-width="1.0" />
<line x1="60.5" y1="96.7" x2="60.5" y2="101.1" stroke="#8fb5d6" stroke-width="1.0" />
<line x1="58.8" y1="98.9" x2="62.2" y2="98.9" stroke="#8fb5d6" stroke-width="1.0" />
<line x1="62.3" y1="102.2" x2="62.3" y2="106.6" stroke="#8fb5d6" stroke-width="1.0" />
<line x1="60.6" y1="104.4" x2="64.0" y2="104.4" stroke="#8fb5d6" stroke-width="1.0" />
<path d="M46.5,34.1 L47.6,44.1 L48.8,54.6 L50.6,61.7 L51.7,68.7 L53.5,75.8 L55.3,80.5 L56.3,86.3 L59.4,95.6 L62.5,105.0 L65.6,116.0 L70.3,122.3 L76.6,127.0 L82.9,132.4 L89.1,136.3 L95.4,140.3 L101.6,144.2 L106.2,146.2 L112.3,148.2 L120.0,150.5 L127.7,150.8 L130.8,151.5 L136.9,154.6 L146.2,155.4 L153.8,157.7 L161.5,160.0 L169.2,160.8 L193.5,160.6 L195.8,161.9 L205.8,162.7 L207.3,164.2 L243.0,164.7" fill="none" stroke="#22638f" stroke-width="1.5" stroke-linejoin="round" stroke-dasharray="4 2.4"/>
<text x="267.5" y="17.4" font-size="13.4" text-anchor="start" font-weight="bold" font-style="normal" fill="#000" stroke="#000" stroke-width="0.45" stroke-linejoin="round">B</text>
<text x="350.4" y="15.9" font-size="11.0" text-anchor="start" font-weight="bold" font-style="normal" fill="#000" textLength="98.2" lengthAdjust="spacingAndGlyphs" stroke="#000" stroke-width="0.45" stroke-linejoin="round">Event-free Survival</text>
<line x1="292.5" y1="28.2" x2="292.5" y2="216.35" stroke="#111" stroke-width="1.5" />
<line x1="291.8" y1="215.65" x2="503.9" y2="215.65" stroke="#111" stroke-width="1.5" />
<line x1="289.3" y1="209.2" x2="292.5" y2="209.2" stroke="#111" stroke-width="1.1" />
<text x="286.90000000000003" y="212.9" font-size="10" text-anchor="end" font-weight="normal" font-style="normal" fill="#2a2a2a" textLength="12.8" lengthAdjust="spacingAndGlyphs">0.0</text>
<line x1="289.3" y1="174.1" x2="292.5" y2="174.1" stroke="#111" stroke-width="1.1" />
<text x="286.90000000000003" y="177.8" font-size="10" text-anchor="end" font-weight="normal" font-style="normal" fill="#2a2a2a" textLength="12.8" lengthAdjust="spacingAndGlyphs">0.2</text>
<line x1="289.3" y1="138.9" x2="292.5" y2="138.9" stroke="#111" stroke-width="1.1" />
<text x="286.90000000000003" y="142.6" font-size="10" text-anchor="end" font-weight="normal" font-style="normal" fill="#2a2a2a" textLength="12.8" lengthAdjust="spacingAndGlyphs">0.4</text>
<line x1="289.3" y1="103.8" x2="292.5" y2="103.8" stroke="#111" stroke-width="1.1" />
<text x="286.90000000000003" y="107.5" font-size="10" text-anchor="end" font-weight="normal" font-style="normal" fill="#2a2a2a" textLength="12.8" lengthAdjust="spacingAndGlyphs">0.6</text>
<line x1="289.3" y1="68.6" x2="292.5" y2="68.6" stroke="#111" stroke-width="1.1" />
<text x="286.90000000000003" y="72.3" font-size="10" text-anchor="end" font-weight="normal" font-style="normal" fill="#2a2a2a" textLength="12.8" lengthAdjust="spacingAndGlyphs">0.8</text>
<line x1="289.3" y1="33.5" x2="292.5" y2="33.5" stroke="#111" stroke-width="1.1" />
<text x="286.90000000000003" y="37.2" font-size="10" text-anchor="end" font-weight="normal" font-style="normal" fill="#2a2a2a" textLength="12.8" lengthAdjust="spacingAndGlyphs">1.0</text>
<line x1="300.0" y1="215.65" x2="300.0" y2="218.85" stroke="#111" stroke-width="1.1" />
<text x="300.0" y="229.65" font-size="10" text-anchor="middle" font-weight="normal" font-style="normal" fill="#2a2a2a" textLength="5.8" lengthAdjust="spacingAndGlyphs">0</text>
<line x1="333.8" y1="215.65" x2="333.8" y2="218.85" stroke="#111" stroke-width="1.1" />
<text x="333.8" y="229.65" font-size="10" text-anchor="middle" font-weight="normal" font-style="normal" fill="#2a2a2a" textLength="5.8" lengthAdjust="spacingAndGlyphs">2</text>
<line x1="367.6" y1="215.65" x2="367.6" y2="218.85" stroke="#111" stroke-width="1.1" />
<text x="367.6" y="229.65" font-size="10" text-anchor="middle" font-weight="normal" font-style="normal" fill="#2a2a2a" textLength="5.8" lengthAdjust="spacingAndGlyphs">4</text>
<line x1="401.3" y1="215.65" x2="401.3" y2="218.85" stroke="#111" stroke-width="1.1" />
<text x="401.3" y="229.65" font-size="10" text-anchor="middle" font-weight="normal" font-style="normal" fill="#2a2a2a" textLength="5.8" lengthAdjust="spacingAndGlyphs">6</text>
<line x1="435.1" y1="215.65" x2="435.1" y2="218.85" stroke="#111" stroke-width="1.1" />
<text x="435.1" y="229.65" font-size="10" text-anchor="middle" font-weight="normal" font-style="normal" fill="#2a2a2a" textLength="5.8" lengthAdjust="spacingAndGlyphs">8</text>
<line x1="468.9" y1="215.65" x2="468.9" y2="218.85" stroke="#111" stroke-width="1.1" />
<text x="468.9" y="229.65" font-size="10" text-anchor="middle" font-weight="normal" font-style="normal" fill="#2a2a2a" textLength="10.2" lengthAdjust="spacingAndGlyphs">10</text>
<line x1="502.7" y1="215.65" x2="502.7" y2="218.85" stroke="#111" stroke-width="1.1" />
<text x="502.7" y="229.65" font-size="10" text-anchor="middle" font-weight="normal" font-style="normal" fill="#2a2a2a" textLength="10.2" lengthAdjust="spacingAndGlyphs">12</text>
<text x="398.3" y="244.6" font-size="11.2" text-anchor="middle" font-weight="normal" font-style="normal" fill="#2a2a2a" textLength="78.6" lengthAdjust="spacingAndGlyphs" stroke="#2a2a2a" stroke-width="0.2" stroke-linejoin="round">Years since diagnosis</text>
<line x1="324.2" y1="33.6" x2="337.5" y2="33.6" stroke="#d4435e" stroke-width="1.5" />
<line x1="324.2" y1="43.4" x2="339.5" y2="43.4" stroke="#22638f" stroke-width="1.6" stroke-dasharray="2.9 2"/>
<text x="345.2" y="35.9" font-size="8.5" text-anchor="start" font-weight="normal" font-style="normal" fill="#2a2a2a" textLength="124.0" lengthAdjust="spacingAndGlyphs">MDS EB-2, n = 202, events = 165</text>
<text x="345.2" y="45.8" font-size="8.5" text-anchor="start" font-weight="normal" font-style="normal" fill="#2a2a2a" textLength="125.5" lengthAdjust="spacingAndGlyphs">WHO AML, n = 769, events = 567</text>
<text x="345.2" y="59.0" font-size="8.5" text-anchor="start" font-weight="normal" font-style="normal" fill="#2a2a2a" textLength="31.6" lengthAdjust="spacingAndGlyphs"><tspan font-style="italic">P</tspan> = 0.01</text>
<path d="M302.4,36.8 L303.3,60.0 L304.6,85.0 L306.3,98.8 L309.4,108.2 L311.7,117.6 L314.9,123.8 L318.8,133.2 L323.5,141.0 L329.7,147.3 L337.6,152.8 L344.6,155.4 L352.3,158.3 L360.0,160.8 L371.5,162.1 L379.2,163.5 L390.8,164.6 L400.4,165.8 L411.5,167.3 L450.0,168.3 L453.8,169.6 L459.6,169.6 L461.5,171.5 L499.0,171.5" fill="none" stroke="#c3d8ea" stroke-width="1.3" stroke-linejoin="round" />
<line x1="307.4" y1="100.0" x2="307.4" y2="104.4" stroke="#8fb5d6" stroke-width="1.0" />
<line x1="305.7" y1="102.2" x2="309.1" y2="102.2" stroke="#8fb5d6" stroke-width="1.0" />
<line x1="310.8" y1="111.8" x2="310.8" y2="116.2" stroke="#8fb5d6" stroke-width="1.0" />
<line x1="309.1" y1="114.0" x2="312.5" y2="114.0" stroke="#8fb5d6" stroke-width="1.0" />
<line x1="313.4" y1="118.7" x2="313.4" y2="123.1" stroke="#8fb5d6" stroke-width="1.0" />
<line x1="311.7" y1="120.9" x2="315.1" y2="120.9" stroke="#8fb5d6" stroke-width="1.0" />
<line x1="317.6" y1="128.0" x2="317.6" y2="132.4" stroke="#8fb5d6" stroke-width="1.0" />
<line x1="315.9" y1="130.2" x2="319.3" y2="130.2" stroke="#8fb5d6" stroke-width="1.0" />
<line x1="333.5" y1="147.8" x2="333.5" y2="152.2" stroke="#8fb5d6" stroke-width="1.0" />
<line x1="331.8" y1="150.0" x2="335.2" y2="150.0" stroke="#8fb5d6" stroke-width="1.0" />
<line x1="335.5" y1="149.1" x2="335.5" y2="153.5" stroke="#8fb5d6" stroke-width="1.0" />
<line x1="333.8" y1="151.3" x2="337.2" y2="151.3" stroke="#8fb5d6" stroke-width="1.0" />
<line x1="337.3" y1="150.4" x2="337.3" y2="154.8" stroke="#8fb5d6" stroke-width="1.0" />
<line x1="335.6" y1="152.6" x2="339.0" y2="152.6" stroke="#8fb5d6" stroke-width="1.0" />
<line x1="342.1" y1="152.3" x2="342.1" y2="156.7" stroke="#8fb5d6" stroke-width="1.0" />
<line x1="340.4" y1="154.5" x2="343.8" y2="154.5" stroke="#8fb5d6" stroke-width="1.0" />
<line x1="342.2" y1="152.3" x2="342.2" y2="156.7" stroke="#8fb5d6" stroke-width="1.0" />
<line x1="340.5" y1="154.5" x2="343.9" y2="154.5" stroke="#8fb5d6" stroke-width="1.0" />
<line x1="343.3" y1="152.7" x2="343.3" y2="157.1" stroke="#8fb5d6" stroke-width="1.0" />
<line x1="341.6" y1="154.9" x2="345.0" y2="154.9" stroke="#8fb5d6" stroke-width="1.0" />
<line x1="346.0" y1="153.7" x2="346.0" y2="158.1" stroke="#8fb5d6" stroke-width="1.0" />
<line x1="344.3" y1="155.9" x2="347.7" y2="155.9" stroke="#8fb5d6" stroke-width="1.0" />
<line x1="348.0" y1="154.5" x2="348.0" y2="158.9" stroke="#8fb5d6" stroke-width="1.0" />
<line x1="346.3" y1="156.7" x2="349.7" y2="156.7" stroke="#8fb5d6" stroke-width="1.0" />
<line x1="352.8" y1="156.3" x2="352.8" y2="160.7" stroke="#8fb5d6" stroke-width="1.0" />
<line x1="351.1" y1="158.5" x2="354.5" y2="158.5" stroke="#8fb5d6" stroke-width="1.0" />
<line x1="358.2" y1="158.0" x2="358.2" y2="162.4" stroke="#8fb5d6" stroke-width="1.0" />
<line x1="356.5" y1="160.2" x2="359.9" y2="160.2" stroke="#8fb5d6" stroke-width="1.0" />
<line x1="358.8" y1="158.2" x2="358.8" y2="162.6" stroke="#8fb5d6" stroke-width="1.0" />
<line x1="357.1" y1="160.4" x2="360.5" y2="160.4" stroke="#8fb5d6" stroke-width="1.0" />
<line x1="358.9" y1="158.3" x2="358.9" y2="162.7" stroke="#8fb5d6" stroke-width="1.0" />
<line x1="357.2" y1="160.5" x2="360.6" y2="160.5" stroke="#8fb5d6" stroke-width="1.0" />
<line x1="359.2" y1="158.3" x2="359.2" y2="162.7" stroke="#8fb5d6" stroke-width="1.0" />
<line x1="357.5" y1="160.5" x2="360.9" y2="160.5" stroke="#8fb5d6" stroke-width="1.0" />
<line x1="359.8" y1="158.5" x2="359.8" y2="162.9" stroke="#8fb5d6" stroke-width="1.0" />
<line x1="358.1" y1="160.7" x2="361.5" y2="160.7" stroke="#8fb5d6" stroke-width="1.0" />
<line x1="360.5" y1="158.7" x2="360.5" y2="163.1" stroke="#8fb5d6" stroke-width="1.0" />
<line x1="358.8" y1="160.9" x2="362.2" y2="160.9" stroke="#8fb5d6" stroke-width="1.0" />
<line x1="367.3" y1="159.4" x2="367.3" y2="163.8" stroke="#8fb5d6" stroke-width="1.0" />
<line x1="365.6" y1="161.6" x2="369.0" y2="161.6" stroke="#8fb5d6" stroke-width="1.0" />
<line x1="370.5" y1="159.8" x2="370.5" y2="164.2" stroke="#8fb5d6" stroke-width="1.0" />
<line x1="368.8" y1="162.0" x2="372.2" y2="162.0" stroke="#8fb5d6" stroke-width="1.0" />
<line x1="371.0" y1="159.8" x2="371.0" y2="164.2" stroke="#8fb5d6" stroke-width="1.0" />
<line x1="369.3" y1="162.0" x2="372.7" y2="162.0" stroke="#8fb5d6" stroke-width="1.0" />
<line x1="371.1" y1="159.9" x2="371.1" y2="164.3" stroke="#8fb5d6" stroke-width="1.0" />
<line x1="369.4" y1="162.1" x2="372.8" y2="162.1" stroke="#8fb5d6" stroke-width="1.0" />
<line x1="372.7" y1="160.1" x2="372.7" y2="164.5" stroke="#8fb5d6" stroke-width="1.0" />
<line x1="371.0" y1="162.3" x2="374.4" y2="162.3" stroke="#8fb5d6" stroke-width="1.0" />
<line x1="373.9" y1="160.3" x2="373.9" y2="164.7" stroke="#8fb5d6" stroke-width="1.0" />
<line x1="372.2" y1="162.5" x2="375.6" y2="162.5" stroke="#8fb5d6" stroke-width="1.0" />
<line x1="375.5" y1="160.6" x2="375.5" y2="165.0" stroke="#8fb5d6" stroke-width="1.0" />
<line x1="373.8" y1="162.8" x2="377.2" y2="162.8" stroke="#8fb5d6" stroke-width="1.0" />
<line x1="375.6" y1="160.6" x2="375.6" y2="165.0" stroke="#8fb5d6" stroke-width="1.0" />
<line x1="373.9" y1="162.8" x2="377.3" y2="162.8" stroke="#8fb5d6" stroke-width="1.0" />
<line x1="377.0" y1="160.9" x2="377.0" y2="165.3" stroke="#8fb5d6" stroke-width="1.0" />
<line x1="375.3" y1="163.1" x2="378.7" y2="163.1" stroke="#8fb5d6" stroke-width="1.0" />
<line x1="382.5" y1="161.6" x2="382.5" y2="166.0" stroke="#8fb5d6" stroke-width="1.0" />
<line x1="380.8" y1="163.8" x2="384.2" y2="163.8" stroke="#8fb5d6" stroke-width="1.0" />
<line x1="383.1" y1="161.7" x2="383.1" y2="166.1" stroke="#8fb5d6" stroke-width="1.0" />
<line x1="381.4" y1="163.9" x2="384.8" y2="163.9" stroke="#8fb5d6" stroke-width="1.0" />
<line x1="383.6" y1="161.7" x2="383.6" y2="166.1" stroke="#8fb5d6" stroke-width="1.0" />
<line x1="381.9" y1="163.9" x2="385.3" y2="163.9" stroke="#8fb5d6" stroke-width="1.0" />
<line x1="387.3" y1="162.1" x2="387.3" y2="166.5" stroke="#8fb5d6" stroke-width="1.0" />
<line x1="385.6" y1="164.3" x2="389.0" y2="164.3" stroke="#8fb5d6" stroke-width="1.0" />
<line x1="388.8" y1="162.2" x2="388.8" y2="166.6" stroke="#8fb5d6" stroke-width="1.0" />
<line x1="387.1" y1="164.4" x2="390.5" y2="164.4" stroke="#8fb5d6" stroke-width="1.0" />
<line x1="390.8" y1="162.4" x2="390.8" y2="166.8" stroke="#8fb5d6" stroke-width="1.0" />
<line x1="389.1" y1="164.6" x2="392.5" y2="164.6" stroke="#8fb5d6" stroke-width="1.0" />
<line x1="392.1" y1="162.6" x2="392.1" y2="167.0" stroke="#8fb5d6" stroke-width="1.0" />
<line x1="390.4" y1="164.8" x2="393.8" y2="164.8" stroke="#8fb5d6" stroke-width="1.0" />
<line x1="392.6" y1="162.6" x2="392.6" y2="167.0" stroke="#8fb5d6" stroke-width="1.0" />
<line x1="390.9" y1="164.8" x2="394.3" y2="164.8" stroke="#8fb5d6" stroke-width="1.0" />
<line x1="392.6" y1="162.6" x2="392.6" y2="167.0" stroke="#8fb5d6" stroke-width="1.0" />
<line x1="390.9" y1="164.8" x2="394.3" y2="164.8" stroke="#8fb5d6" stroke-width="1.0" />
<line x1="394.0" y1="162.8" x2="394.0" y2="167.2" stroke="#8fb5d6" stroke-width="1.0" />
<line x1="392.3" y1="165.0" x2="395.7" y2="165.0" stroke="#8fb5d6" stroke-width="1.0" />
<line x1="395.7" y1="163.0" x2="395.7" y2="167.4" stroke="#8fb5d6" stroke-width="1.0" />
<line x1="394.0" y1="165.2" x2="397.4" y2="165.2" stroke="#8fb5d6" stroke-width="1.0" />
<line x1="396.1" y1="163.1" x2="396.1" y2="167.5" stroke="#8fb5d6" stroke-width="1.0" />
<line x1="394.4" y1="165.3" x2="397.8" y2="165.3" stroke="#8fb5d6" stroke-width="1.0" />
<line x1="396.6" y1="163.1" x2="396.6" y2="167.5" stroke="#8fb5d6" stroke-width="1.0" />
<line x1="394.9" y1="165.3" x2="398.3" y2="165.3" stroke="#8fb5d6" stroke-width="1.0" />
<line x1="398.2" y1="163.3" x2="398.2" y2="167.7" stroke="#8fb5d6" stroke-width="1.0" />
<line x1="396.5" y1="165.5" x2="399.9" y2="165.5" stroke="#8fb5d6" stroke-width="1.0" />
<line x1="400.9" y1="163.7" x2="400.9" y2="168.1" stroke="#8fb5d6" stroke-width="1.0" />
<line x1="399.2" y1="165.9" x2="402.6" y2="165.9" stroke="#8fb5d6" stroke-width="1.0" />
<line x1="401.2" y1="163.7" x2="401.2" y2="168.1" stroke="#8fb5d6" stroke-width="1.0" />
<line x1="399.5" y1="165.9" x2="402.9" y2="165.9" stroke="#8fb5d6" stroke-width="1.0" />
<line x1="402.3" y1="163.9" x2="402.3" y2="168.3" stroke="#8fb5d6" stroke-width="1.0" />
<line x1="400.6" y1="166.1" x2="404.0" y2="166.1" stroke="#8fb5d6" stroke-width="1.0" />
<line x1="403.6" y1="164.0" x2="403.6" y2="168.4" stroke="#8fb5d6" stroke-width="1.0" />
<line x1="401.9" y1="166.2" x2="405.3" y2="166.2" stroke="#8fb5d6" stroke-width="1.0" />
<line x1="404.5" y1="164.1" x2="404.5" y2="168.5" stroke="#8fb5d6" stroke-width="1.0" />
<line x1="402.8" y1="166.3" x2="406.2" y2="166.3" stroke="#8fb5d6" stroke-width="1.0" />
<line x1="405.0" y1="164.2" x2="405.0" y2="168.6" stroke="#8fb5d6" stroke-width="1.0" />
<line x1="403.3" y1="166.4" x2="406.7" y2="166.4" stroke="#8fb5d6" stroke-width="1.0" />
<line x1="405.8" y1="164.3" x2="405.8" y2="168.7" stroke="#8fb5d6" stroke-width="1.0" />
<line x1="404.1" y1="166.5" x2="407.5" y2="166.5" stroke="#8fb5d6" stroke-width="1.0" />
<line x1="405.8" y1="164.3" x2="405.8" y2="168.7" stroke="#8fb5d6" stroke-width="1.0" />
<line x1="404.1" y1="166.5" x2="407.5" y2="166.5" stroke="#8fb5d6" stroke-width="1.0" />
<line x1="406.6" y1="164.4" x2="406.6" y2="168.8" stroke="#8fb5d6" stroke-width="1.0" />
<line x1="404.9" y1="166.6" x2="408.3" y2="166.6" stroke="#8fb5d6" stroke-width="1.0" />
<line x1="406.7" y1="164.5" x2="406.7" y2="168.9" stroke="#8fb5d6" stroke-width="1.0" />
<line x1="405.0" y1="166.7" x2="408.4" y2="166.7" stroke="#8fb5d6" stroke-width="1.0" />
<line x1="407.6" y1="164.6" x2="407.6" y2="169.0" stroke="#8fb5d6" stroke-width="1.0" />
<line x1="405.9" y1="166.8" x2="409.3" y2="166.8" stroke="#8fb5d6" stroke-width="1.0" />
<line x1="407.7" y1="164.6" x2="407.7" y2="169.0" stroke="#8fb5d6" stroke-width="1.0" />
<line x1="406.0" y1="166.8" x2="409.4" y2="166.8" stroke="#8fb5d6" stroke-width="1.0" />
<line x1="409.3" y1="164.8" x2="409.3" y2="169.2" stroke="#8fb5d6" stroke-width="1.0" />
<line x1="407.6" y1="167.0" x2="411.0" y2="167.0" stroke="#8fb5d6" stroke-width="1.0" />
<line x1="411.4" y1="165.1" x2="411.4" y2="169.5" stroke="#8fb5d6" stroke-width="1.0" />
<line x1="409.7" y1="167.3" x2="413.1" y2="167.3" stroke="#8fb5d6" stroke-width="1.0" />
<line x1="411.5" y1="165.1" x2="411.5" y2="169.5" stroke="#8fb5d6" stroke-width="1.0" />
<line x1="409.8" y1="167.3" x2="413.2" y2="167.3" stroke="#8fb5d6" stroke-width="1.0" />
<line x1="411.7" y1="165.1" x2="411.7" y2="169.5" stroke="#8fb5d6" stroke-width="1.0" />
<line x1="410.0" y1="167.3" x2="413.4" y2="167.3" stroke="#8fb5d6" stroke-width="1.0" />
<line x1="412.7" y1="165.1" x2="412.7" y2="169.5" stroke="#8fb5d6" stroke-width="1.0" />
<line x1="411.0" y1="167.3" x2="414.4" y2="167.3" stroke="#8fb5d6" stroke-width="1.0" />
<line x1="412.7" y1="165.1" x2="412.7" y2="169.5" stroke="#8fb5d6" stroke-width="1.0" />
<line x1="411.0" y1="167.3" x2="414.4" y2="167.3" stroke="#8fb5d6" stroke-width="1.0" />
<line x1="417.7" y1="165.3" x2="417.7" y2="169.7" stroke="#8fb5d6" stroke-width="1.0" />
<line x1="416.0" y1="167.5" x2="419.4" y2="167.5" stroke="#8fb5d6" stroke-width="1.0" />
<line x1="418.4" y1="165.3" x2="418.4" y2="169.7" stroke="#8fb5d6" stroke-width="1.0" />
<line x1="416.7" y1="167.5" x2="420.1" y2="167.5" stroke="#8fb5d6" stroke-width="1.0" />
<line x1="419.0" y1="165.3" x2="419.0" y2="169.7" stroke="#8fb5d6" stroke-width="1.0" />
<line x1="417.3" y1="167.5" x2="420.7" y2="167.5" stroke="#8fb5d6" stroke-width="1.0" />
<line x1="419.4" y1="165.3" x2="419.4" y2="169.7" stroke="#8fb5d6" stroke-width="1.0" />
<line x1="417.7" y1="167.5" x2="421.1" y2="167.5" stroke="#8fb5d6" stroke-width="1.0" />
<line x1="419.6" y1="165.3" x2="419.6" y2="169.7" stroke="#8fb5d6" stroke-width="1.0" />
<line x1="417.9" y1="167.5" x2="421.3" y2="167.5" stroke="#8fb5d6" stroke-width="1.0" />
<line x1="420.0" y1="165.3" x2="420.0" y2="169.7" stroke="#8fb5d6" stroke-width="1.0" />
<line x1="418.3" y1="167.5" x2="421.7" y2="167.5" stroke="#8fb5d6" stroke-width="1.0" />
<line x1="420.3" y1="165.3" x2="420.3" y2="169.7" stroke="#8fb5d6" stroke-width="1.0" />
<line x1="418.6" y1="167.5" x2="422.0" y2="167.5" stroke="#8fb5d6" stroke-width="1.0" />
<line x1="420.4" y1="165.3" x2="420.4" y2="169.7" stroke="#8fb5d6" stroke-width="1.0" />
<line x1="418.7" y1="167.5" x2="422.1" y2="167.5" stroke="#8fb5d6" stroke-width="1.0" />
<line x1="421.4" y1="165.4" x2="421.4" y2="169.8" stroke="#8fb5d6" stroke-width="1.0" />
<line x1="419.7" y1="167.6" x2="423.1" y2="167.6" stroke="#8fb5d6" stroke-width="1.0" />
<line x1="421.8" y1="165.4" x2="421.8" y2="169.8" stroke="#8fb5d6" stroke-width="1.0" />
<line x1="420.1" y1="167.6" x2="423.5" y2="167.6" stroke="#8fb5d6" stroke-width="1.0" />
<line x1="422.5" y1="165.4" x2="422.5" y2="169.8" stroke="#8fb5d6" stroke-width="1.0" />
<line x1="420.8" y1="167.6" x2="424.2" y2="167.6" stroke="#8fb5d6" stroke-width="1.0" />
<line x1="424.6" y1="165.4" x2="424.6" y2="169.8" stroke="#8fb5d6" stroke-width="1.0" />
<line x1="422.9" y1="167.6" x2="426.3" y2="167.6" stroke="#8fb5d6" stroke-width="1.0" />
<line x1="426.1" y1="165.5" x2="426.1" y2="169.9" stroke="#8fb5d6" stroke-width="1.0" />
<line x1="424.4" y1="167.7" x2="427.8" y2="167.7" stroke="#8fb5d6" stroke-width="1.0" />
<line x1="426.7" y1="165.5" x2="426.7" y2="169.9" stroke="#8fb5d6" stroke-width="1.0" />
<line x1="425.0" y1="167.7" x2="428.4" y2="167.7" stroke="#8fb5d6" stroke-width="1.0" />
<line x1="428.1" y1="165.5" x2="428.1" y2="169.9" stroke="#8fb5d6" stroke-width="1.0" />
<line x1="426.4" y1="167.7" x2="429.8" y2="167.7" stroke="#8fb5d6" stroke-width="1.0" />
<line x1="428.7" y1="165.5" x2="428.7" y2="169.9" stroke="#8fb5d6" stroke-width="1.0" />
<line x1="427.0" y1="167.7" x2="430.4" y2="167.7" stroke="#8fb5d6" stroke-width="1.0" />
<line x1="431.7" y1="165.6" x2="431.7" y2="170.0" stroke="#8fb5d6" stroke-width="1.0" />
<line x1="430.0" y1="167.8" x2="433.4" y2="167.8" stroke="#8fb5d6" stroke-width="1.0" />
<line x1="432.6" y1="165.6" x2="432.6" y2="170.0" stroke="#8fb5d6" stroke-width="1.0" />
<line x1="430.9" y1="167.8" x2="434.3" y2="167.8" stroke="#8fb5d6" stroke-width="1.0" />
<line x1="435.2" y1="165.7" x2="435.2" y2="170.1" stroke="#8fb5d6" stroke-width="1.0" />
<line x1="433.5" y1="167.9" x2="436.9" y2="167.9" stroke="#8fb5d6" stroke-width="1.0" />
<line x1="436.1" y1="165.7" x2="436.1" y2="170.1" stroke="#8fb5d6" stroke-width="1.0" />
<line x1="434.4" y1="167.9" x2="437.8" y2="167.9" stroke="#8fb5d6" stroke-width="1.0" />
<line x1="436.5" y1="165.7" x2="436.5" y2="170.1" stroke="#8fb5d6" stroke-width="1.0" />
<line x1="434.8" y1="167.9" x2="438.2" y2="167.9" stroke="#8fb5d6" stroke-width="1.0" />
<line x1="436.9" y1="165.8" x2="436.9" y2="170.2" stroke="#8fb5d6" stroke-width="1.0" />
<line x1="435.2" y1="168.0" x2="438.6" y2="168.0" stroke="#8fb5d6" stroke-width="1.0" />
<line x1="437.6" y1="165.8" x2="437.6" y2="170.2" stroke="#8fb5d6" stroke-width="1.0" />
<line x1="435.9" y1="168.0" x2="439.3" y2="168.0" stroke="#8fb5d6" stroke-width="1.0" />
<line x1="437.8" y1="165.8" x2="437.8" y2="170.2" stroke="#8fb5d6" stroke-width="1.0" />
<line x1="436.1" y1="168.0" x2="439.5" y2="168.0" stroke="#8fb5d6" stroke-width="1.0" />
<line x1="440.7" y1="165.9" x2="440.7" y2="170.3" stroke="#8fb5d6" stroke-width="1.0" />
<line x1="439.0" y1="168.1" x2="442.4" y2="168.1" stroke="#8fb5d6" stroke-width="1.0" />
<line x1="443.9" y1="165.9" x2="443.9" y2="170.3" stroke="#8fb5d6" stroke-width="1.0" />
<line x1="442.2" y1="168.1" x2="445.6" y2="168.1" stroke="#8fb5d6" stroke-width="1.0" />
<line x1="445.3" y1="166.0" x2="445.3" y2="170.4" stroke="#8fb5d6" stroke-width="1.0" />
<line x1="443.6" y1="168.2" x2="447.0" y2="168.2" stroke="#8fb5d6" stroke-width="1.0" />
<line x1="445.6" y1="166.0" x2="445.6" y2="170.4" stroke="#8fb5d6" stroke-width="1.0" />
<line x1="443.9" y1="168.2" x2="447.3" y2="168.2" stroke="#8fb5d6" stroke-width="1.0" />
<line x1="447.9" y1="166.0" x2="447.9" y2="170.4" stroke="#8fb5d6" stroke-width="1.0" />
<line x1="446.2" y1="168.2" x2="449.6" y2="168.2" stroke="#8fb5d6" stroke-width="1.0" />
<line x1="449.0" y1="166.1" x2="449.0" y2="170.5" stroke="#8fb5d6" stroke-width="1.0" />
<line x1="447.3" y1="168.3" x2="450.7" y2="168.3" stroke="#8fb5d6" stroke-width="1.0" />
<line x1="450.5" y1="166.3" x2="450.5" y2="170.7" stroke="#8fb5d6" stroke-width="1.0" />
<line x1="448.8" y1="168.5" x2="452.2" y2="168.5" stroke="#8fb5d6" stroke-width="1.0" />
<line x1="451.3" y1="166.6" x2="451.3" y2="171.0" stroke="#8fb5d6" stroke-width="1.0" />
<line x1="449.6" y1="168.8" x2="453.0" y2="168.8" stroke="#8fb5d6" stroke-width="1.0" />
<line x1="453.2" y1="167.2" x2="453.2" y2="171.6" stroke="#8fb5d6" stroke-width="1.0" />
<line x1="451.5" y1="169.4" x2="454.9" y2="169.4" stroke="#8fb5d6" stroke-width="1.0" />
<line x1="453.9" y1="167.4" x2="453.9" y2="171.8" stroke="#8fb5d6" stroke-width="1.0" />
<line x1="452.2" y1="169.6" x2="455.6" y2="169.6" stroke="#8fb5d6" stroke-width="1.0" />
<line x1="454.4" y1="167.4" x2="454.4" y2="171.8" stroke="#8fb5d6" stroke-width="1.0" />
<line x1="452.7" y1="169.6" x2="456.1" y2="169.6" stroke="#8fb5d6" stroke-width="1.0" />
<line x1="456.1" y1="167.4" x2="456.1" y2="171.8" stroke="#8fb5d6" stroke-width="1.0" />
<line x1="454.4" y1="169.6" x2="457.8" y2="169.6" stroke="#8fb5d6" stroke-width="1.0" />
<line x1="456.2" y1="167.4" x2="456.2" y2="171.8" stroke="#8fb5d6" stroke-width="1.0" />
<line x1="454.5" y1="169.6" x2="457.9" y2="169.6" stroke="#8fb5d6" stroke-width="1.0" />
<line x1="456.2" y1="167.4" x2="456.2" y2="171.8" stroke="#8fb5d6" stroke-width="1.0" />
<line x1="454.5" y1="169.6" x2="457.9" y2="169.6" stroke="#8fb5d6" stroke-width="1.0" />
<line x1="460.4" y1="168.2" x2="460.4" y2="172.6" stroke="#8fb5d6" stroke-width="1.0" />
<line x1="458.7" y1="170.4" x2="462.1" y2="170.4" stroke="#8fb5d6" stroke-width="1.0" />
<line x1="460.4" y1="168.2" x2="460.4" y2="172.6" stroke="#8fb5d6" stroke-width="1.0" />
<line x1="458.7" y1="170.4" x2="462.1" y2="170.4" stroke="#8fb5d6" stroke-width="1.0" />
<line x1="460.6" y1="168.4" x2="460.6" y2="172.8" stroke="#8fb5d6" stroke-width="1.0" />
<line x1="458.9" y1="170.6" x2="462.3" y2="170.6" stroke="#8fb5d6" stroke-width="1.0" />
<line x1="461.0" y1="168.8" x2="461.0" y2="173.2" stroke="#8fb5d6" stroke-width="1.0" />
<line x1="459.3" y1="171.0" x2="462.7" y2="171.0" stroke="#8fb5d6" stroke-width="1.0" />
<line x1="461.6" y1="169.3" x2="461.6" y2="173.7" stroke="#8fb5d6" stroke-width="1.0" />
<line x1="459.9" y1="171.5" x2="463.3" y2="171.5" stroke="#8fb5d6" stroke-width="1.0" />
<line x1="463.4" y1="169.3" x2="463.4" y2="173.7" stroke="#8fb5d6" stroke-width="1.0" />
<line x1="461.7" y1="171.5" x2="465.1" y2="171.5" stroke="#8fb5d6" stroke-width="1.0" />
<line x1="467.3" y1="169.3" x2="467.3" y2="173.7" stroke="#8fb5d6" stroke-width="1.0" />
<line x1="465.6" y1="171.5" x2="469.0" y2="171.5" stroke="#8fb5d6" stroke-width="1.0" />
<line x1="467.3" y1="169.3" x2="467.3" y2="173.7" stroke="#8fb5d6" stroke-width="1.0" />
<line x1="465.6" y1="171.5" x2="469.0" y2="171.5" stroke="#8fb5d6" stroke-width="1.0" />
<line x1="471.4" y1="169.3" x2="471.4" y2="173.7" stroke="#8fb5d6" stroke-width="1.0" />
<line x1="469.7" y1="171.5" x2="473.1" y2="171.5" stroke="#8fb5d6" stroke-width="1.0" />
<line x1="472.2" y1="169.3" x2="472.2" y2="173.7" stroke="#8fb5d6" stroke-width="1.0" />
<line x1="470.5" y1="171.5" x2="473.9" y2="171.5" stroke="#8fb5d6" stroke-width="1.0" />
<line x1="472.2" y1="169.3" x2="472.2" y2="173.7" stroke="#8fb5d6" stroke-width="1.0" />
<line x1="470.5" y1="171.5" x2="473.9" y2="171.5" stroke="#8fb5d6" stroke-width="1.0" />
<line x1="473.3" y1="169.3" x2="473.3" y2="173.7" stroke="#8fb5d6" stroke-width="1.0" />
<line x1="471.6" y1="171.5" x2="475.0" y2="171.5" stroke="#8fb5d6" stroke-width="1.0" />
<line x1="473.4" y1="169.3" x2="473.4" y2="173.7" stroke="#8fb5d6" stroke-width="1.0" />
<line x1="471.7" y1="171.5" x2="475.1" y2="171.5" stroke="#8fb5d6" stroke-width="1.0" />
<line x1="473.6" y1="169.3" x2="473.6" y2="173.7" stroke="#8fb5d6" stroke-width="1.0" />
<line x1="471.9" y1="171.5" x2="475.3" y2="171.5" stroke="#8fb5d6" stroke-width="1.0" />
<line x1="474.6" y1="169.3" x2="474.6" y2="173.7" stroke="#8fb5d6" stroke-width="1.0" />
<line x1="472.9" y1="171.5" x2="476.3" y2="171.5" stroke="#8fb5d6" stroke-width="1.0" />
<line x1="475.2" y1="169.3" x2="475.2" y2="173.7" stroke="#8fb5d6" stroke-width="1.0" />
<line x1="473.5" y1="171.5" x2="476.9" y2="171.5" stroke="#8fb5d6" stroke-width="1.0" />
<line x1="475.2" y1="169.3" x2="475.2" y2="173.7" stroke="#8fb5d6" stroke-width="1.0" />
<line x1="473.5" y1="171.5" x2="476.9" y2="171.5" stroke="#8fb5d6" stroke-width="1.0" />
<line x1="475.3" y1="169.3" x2="475.3" y2="173.7" stroke="#8fb5d6" stroke-width="1.0" />
<line x1="473.6" y1="171.5" x2="477.0" y2="171.5" stroke="#8fb5d6" stroke-width="1.0" />
<line x1="475.4" y1="169.3" x2="475.4" y2="173.7" stroke="#8fb5d6" stroke-width="1.0" />
<line x1="473.7" y1="171.5" x2="477.1" y2="171.5" stroke="#8fb5d6" stroke-width="1.0" />
<line x1="475.7" y1="169.3" x2="475.7" y2="173.7" stroke="#8fb5d6" stroke-width="1.0" />
<line x1="474.0" y1="171.5" x2="477.4" y2="171.5" stroke="#8fb5d6" stroke-width="1.0" />
<line x1="476.1" y1="169.3" x2="476.1" y2="173.7" stroke="#8fb5d6" stroke-width="1.0" />
<line x1="474.4" y1="171.5" x2="477.8" y2="171.5" stroke="#8fb5d6" stroke-width="1.0" />
<line x1="476.6" y1="169.3" x2="476.6" y2="173.7" stroke="#8fb5d6" stroke-width="1.0" />
<line x1="474.9" y1="171.5" x2="478.3" y2="171.5" stroke="#8fb5d6" stroke-width="1.0" />
<line x1="477.4" y1="169.3" x2="477.4" y2="173.7" stroke="#8fb5d6" stroke-width="1.0" />
<line x1="475.7" y1="171.5" x2="479.1" y2="171.5" stroke="#8fb5d6" stroke-width="1.0" />
<line x1="478.7" y1="169.3" x2="478.7" y2="173.7" stroke="#8fb5d6" stroke-width="1.0" />
<line x1="477.0" y1="171.5" x2="480.4" y2="171.5" stroke="#8fb5d6" stroke-width="1.0" />
<line x1="479.1" y1="169.3" x2="479.1" y2="173.7" stroke="#8fb5d6" stroke-width="1.0" />
<line x1="477.4" y1="171.5" x2="480.8" y2="171.5" stroke="#8fb5d6" stroke-width="1.0" />
<line x1="479.3" y1="169.3" x2="479.3" y2="173.7" stroke="#8fb5d6" stroke-width="1.0" />
<line x1="477.6" y1="171.5" x2="481.0" y2="171.5" stroke="#8fb5d6" stroke-width="1.0" />
<line x1="481.3" y1="169.3" x2="481.3" y2="173.7" stroke="#8fb5d6" stroke-width="1.0" />
<line x1="479.6" y1="171.5" x2="483.0" y2="171.5" stroke="#8fb5d6" stroke-width="1.0" />
<line x1="481.5" y1="169.3" x2="481.5" y2="173.7" stroke="#8fb5d6" stroke-width="1.0" />
<line x1="479.8" y1="171.5" x2="483.2" y2="171.5" stroke="#8fb5d6" stroke-width="1.0" />
<line x1="482.2" y1="169.3" x2="482.2" y2="173.7" stroke="#8fb5d6" stroke-width="1.0" />
<line x1="480.5" y1="171.5" x2="483.9" y2="171.5" stroke="#8fb5d6" stroke-width="1.0" />
<line x1="482.4" y1="169.3" x2="482.4" y2="173.7" stroke="#8fb5d6" stroke-width="1.0" />
<line x1="480.7" y1="171.5" x2="484.1" y2="171.5" stroke="#8fb5d6" stroke-width="1.0" />
<line x1="484.5" y1="169.3" x2="484.5" y2="173.7" stroke="#8fb5d6" stroke-width="1.0" />
<line x1="482.8" y1="171.5" x2="486.2" y2="171.5" stroke="#8fb5d6" stroke-width="1.0" />
<line x1="484.5" y1="169.3" x2="484.5" y2="173.7" stroke="#8fb5d6" stroke-width="1.0" />
<line x1="482.8" y1="171.5" x2="486.2" y2="171.5" stroke="#8fb5d6" stroke-width="1.0" />
<line x1="485.1" y1="169.3" x2="485.1" y2="173.7" stroke="#8fb5d6" stroke-width="1.0" />
<line x1="483.4" y1="171.5" x2="486.8" y2="171.5" stroke="#8fb5d6" stroke-width="1.0" />
<line x1="486.6" y1="169.3" x2="486.6" y2="173.7" stroke="#8fb5d6" stroke-width="1.0" />
<line x1="484.9" y1="171.5" x2="488.3" y2="171.5" stroke="#8fb5d6" stroke-width="1.0" />
<line x1="486.7" y1="169.3" x2="486.7" y2="173.7" stroke="#8fb5d6" stroke-width="1.0" />
<line x1="485.0" y1="171.5" x2="488.4" y2="171.5" stroke="#8fb5d6" stroke-width="1.0" />
<line x1="487.0" y1="169.3" x2="487.0" y2="173.7" stroke="#8fb5d6" stroke-width="1.0" />
<line x1="485.3" y1="171.5" x2="488.7" y2="171.5" stroke="#8fb5d6" stroke-width="1.0" />
<line x1="487.4" y1="169.3" x2="487.4" y2="173.7" stroke="#8fb5d6" stroke-width="1.0" />
<line x1="485.7" y1="171.5" x2="489.1" y2="171.5" stroke="#8fb5d6" stroke-width="1.0" />
<line x1="489.5" y1="169.3" x2="489.5" y2="173.7" stroke="#8fb5d6" stroke-width="1.0" />
<line x1="487.8" y1="171.5" x2="491.2" y2="171.5" stroke="#8fb5d6" stroke-width="1.0" />
<line x1="489.7" y1="169.3" x2="489.7" y2="173.7" stroke="#8fb5d6" stroke-width="1.0" />
<line x1="488.0" y1="171.5" x2="491.4" y2="171.5" stroke="#8fb5d6" stroke-width="1.0" />
<line x1="489.9" y1="169.3" x2="489.9" y2="173.7" stroke="#8fb5d6" stroke-width="1.0" />
<line x1="488.2" y1="171.5" x2="491.6" y2="171.5" stroke="#8fb5d6" stroke-width="1.0" />
<line x1="490.3" y1="169.3" x2="490.3" y2="173.7" stroke="#8fb5d6" stroke-width="1.0" />
<line x1="488.6" y1="171.5" x2="492.0" y2="171.5" stroke="#8fb5d6" stroke-width="1.0" />
<line x1="491.4" y1="169.3" x2="491.4" y2="173.7" stroke="#8fb5d6" stroke-width="1.0" />
<line x1="489.7" y1="171.5" x2="493.1" y2="171.5" stroke="#8fb5d6" stroke-width="1.0" />
<line x1="491.7" y1="169.3" x2="491.7" y2="173.7" stroke="#8fb5d6" stroke-width="1.0" />
<line x1="490.0" y1="171.5" x2="493.4" y2="171.5" stroke="#8fb5d6" stroke-width="1.0" />
<line x1="492.3" y1="169.3" x2="492.3" y2="173.7" stroke="#8fb5d6" stroke-width="1.0" />
<line x1="490.6" y1="171.5" x2="494.0" y2="171.5" stroke="#8fb5d6" stroke-width="1.0" />
<line x1="493.1" y1="169.3" x2="493.1" y2="173.7" stroke="#8fb5d6" stroke-width="1.0" />
<line x1="491.4" y1="171.5" x2="494.8" y2="171.5" stroke="#8fb5d6" stroke-width="1.0" />
<line x1="496.0" y1="169.3" x2="496.0" y2="173.7" stroke="#8fb5d6" stroke-width="1.0" />
<line x1="494.3" y1="171.5" x2="497.7" y2="171.5" stroke="#8fb5d6" stroke-width="1.0" />
<line x1="497.5" y1="169.3" x2="497.5" y2="173.7" stroke="#8fb5d6" stroke-width="1.0" />
<line x1="495.8" y1="171.5" x2="499.2" y2="171.5" stroke="#8fb5d6" stroke-width="1.0" />
<path d="M301.5,32.7 L303.0,60.0 L303.9,80.0 L305.5,95.6 L307.0,111.3 L308.6,127.0 L311.0,141.0 L313.8,147.7 L316.7,154.4 L320.6,159.2 L325.4,163.1 L331.2,166.9 L338.8,169.8 L348.5,171.7 L356.2,174.2 L363.8,176.5 L383.0,176.5 L386.9,178.5 L497.1,178.5" fill="none" stroke="#d4435e" stroke-width="1.4" stroke-linejoin="round" />
<line x1="303" y1="57.7" x2="303" y2="62.3" stroke="#e07890" stroke-width="0.9" />
<line x1="304" y1="78.7" x2="304" y2="83.3" stroke="#e07890" stroke-width="0.9" />
<line x1="305" y1="88.4" x2="305" y2="93.0" stroke="#e07890" stroke-width="0.9" />
<line x1="306" y1="98.5" x2="306" y2="103.1" stroke="#e07890" stroke-width="0.9" />
<line x1="340" y1="167.7" x2="340" y2="172.3" stroke="#e07890" stroke-width="0.9" />
<line x1="352" y1="170.5" x2="352" y2="175.1" stroke="#e07890" stroke-width="0.9" />
<line x1="360" y1="173.0" x2="360" y2="177.7" stroke="#e07890" stroke-width="0.9" />
<line x1="370" y1="174.2" x2="370" y2="178.8" stroke="#e07890" stroke-width="0.9" />
<line x1="375" y1="174.2" x2="375" y2="178.8" stroke="#e07890" stroke-width="0.9" />
<line x1="380" y1="174.2" x2="380" y2="178.8" stroke="#e07890" stroke-width="0.9" />
<line x1="401" y1="176.2" x2="401" y2="180.8" stroke="#e07890" stroke-width="0.9" />
<line x1="405" y1="176.2" x2="405" y2="180.8" stroke="#e07890" stroke-width="0.9" />
<line x1="409" y1="176.2" x2="409" y2="180.8" stroke="#e07890" stroke-width="0.9" />
<line x1="415" y1="176.2" x2="415" y2="180.8" stroke="#e07890" stroke-width="0.9" />
<line x1="440" y1="176.2" x2="440" y2="180.8" stroke="#e07890" stroke-width="0.9" />
<line x1="442" y1="176.2" x2="442" y2="180.8" stroke="#e07890" stroke-width="0.9" />
<line x1="446" y1="176.2" x2="446" y2="180.8" stroke="#e07890" stroke-width="0.9" />
<line x1="451" y1="176.2" x2="451" y2="180.8" stroke="#e07890" stroke-width="0.9" />
<line x1="467" y1="176.2" x2="467" y2="180.8" stroke="#e07890" stroke-width="0.9" />
<line x1="481" y1="176.2" x2="481" y2="180.8" stroke="#e07890" stroke-width="0.9" />
<line x1="302.6" y1="39.8" x2="302.6" y2="44.2" stroke="#8fb5d6" stroke-width="1.0" />
<line x1="300.9" y1="42.0" x2="304.3" y2="42.0" stroke="#8fb5d6" stroke-width="1.0" />
<line x1="303.2" y1="55.2" x2="303.2" y2="59.6" stroke="#8fb5d6" stroke-width="1.0" />
<line x1="301.5" y1="57.4" x2="304.9" y2="57.4" stroke="#8fb5d6" stroke-width="1.0" />
<line x1="304.0" y1="71.3" x2="304.0" y2="75.7" stroke="#8fb5d6" stroke-width="1.0" />
<line x1="302.3" y1="73.5" x2="305.7" y2="73.5" stroke="#8fb5d6" stroke-width="1.0" />
<line x1="305.2" y1="87.7" x2="305.2" y2="92.1" stroke="#8fb5d6" stroke-width="1.0" />
<line x1="303.5" y1="89.9" x2="306.9" y2="89.9" stroke="#8fb5d6" stroke-width="1.0" />
<line x1="306.5" y1="97.2" x2="306.5" y2="101.6" stroke="#8fb5d6" stroke-width="1.0" />
<line x1="304.8" y1="99.4" x2="308.2" y2="99.4" stroke="#8fb5d6" stroke-width="1.0" />
<line x1="309.0" y1="104.8" x2="309.0" y2="109.2" stroke="#8fb5d6" stroke-width="1.0" />
<line x1="307.3" y1="107.0" x2="310.7" y2="107.0" stroke="#8fb5d6" stroke-width="1.0" />
<line x1="312.5" y1="117.0" x2="312.5" y2="121.4" stroke="#8fb5d6" stroke-width="1.0" />
<line x1="310.8" y1="119.2" x2="314.2" y2="119.2" stroke="#8fb5d6" stroke-width="1.0" />
<line x1="315.5" y1="123.0" x2="315.5" y2="127.4" stroke="#8fb5d6" stroke-width="1.0" />
<line x1="313.8" y1="125.2" x2="317.2" y2="125.2" stroke="#8fb5d6" stroke-width="1.0" />
<line x1="318.0" y1="129.1" x2="318.0" y2="133.5" stroke="#8fb5d6" stroke-width="1.0" />
<line x1="316.3" y1="131.3" x2="319.7" y2="131.3" stroke="#8fb5d6" stroke-width="1.0" />
<path d="M302.4,36.8 L303.3,60.0 L304.6,85.0 L306.3,98.8 L309.4,108.2 L311.7,117.6 L314.9,123.8 L318.8,133.2 L323.5,141.0 L329.7,147.3 L337.6,152.8 L344.6,155.4 L352.3,158.3 L360.0,160.8 L371.5,162.1 L379.2,163.5 L390.8,164.6 L400.4,165.8 L411.5,167.3 L450.0,168.3 L453.8,169.6 L459.6,169.6 L461.5,171.5 L499.0,171.5" fill="none" stroke="#22638f" stroke-width="1.5" stroke-linejoin="round" stroke-dasharray="4 2.4"/>
<text x="12.4" y="272.0" font-size="13.4" text-anchor="start" font-weight="bold" font-style="normal" fill="#000" stroke="#000" stroke-width="0.45" stroke-linejoin="round">C</text>
<text x="93.1" y="269.8" font-size="10.8" text-anchor="start" font-weight="bold" font-style="normal" fill="#000" textLength="109.7" lengthAdjust="spacingAndGlyphs" stroke="#000" stroke-width="0.45" stroke-linejoin="round">Relapse-free Survival</text>
<text x="98.4" y="282.6" font-size="10.8" text-anchor="start" font-weight="bold" font-style="normal" fill="#000" textLength="98.2" lengthAdjust="spacingAndGlyphs" stroke="#000" stroke-width="0.45" stroke-linejoin="round">(CR/CRi subgroup)</text>
<line x1="38.2" y1="285.4" x2="38.2" y2="474.09999999999997" stroke="#111" stroke-width="1.5" />
<line x1="37.5" y1="473.4" x2="251.9" y2="473.4" stroke="#111" stroke-width="1.5" />
<line x1="35.0" y1="466.4" x2="38.2" y2="466.4" stroke="#111" stroke-width="1.1" />
<text x="32.6" y="470.1" font-size="10" text-anchor="end" font-weight="normal" font-style="normal" fill="#2a2a2a" textLength="12.8" lengthAdjust="spacingAndGlyphs">0.0</text>
<line x1="35.0" y1="431.4" x2="38.2" y2="431.4" stroke="#111" stroke-width="1.1" />
<text x="32.6" y="435.1" font-size="10" text-anchor="end" font-weight="normal" font-style="normal" fill="#2a2a2a" textLength="12.8" lengthAdjust="spacingAndGlyphs">0.2</text>
<line x1="35.0" y1="396.4" x2="38.2" y2="396.4" stroke="#111" stroke-width="1.1" />
<text x="32.6" y="400.1" font-size="10" text-anchor="end" font-weight="normal" font-style="normal" fill="#2a2a2a" textLength="12.8" lengthAdjust="spacingAndGlyphs">0.4</text>
<line x1="35.0" y1="361.4" x2="38.2" y2="361.4" stroke="#111" stroke-width="1.1" />
<text x="32.6" y="365.1" font-size="10" text-anchor="end" font-weight="normal" font-style="normal" fill="#2a2a2a" textLength="12.8" lengthAdjust="spacingAndGlyphs">0.6</text>
<line x1="35.0" y1="326.3" x2="38.2" y2="326.3" stroke="#111" stroke-width="1.1" />
<text x="32.6" y="330.0" font-size="10" text-anchor="end" font-weight="normal" font-style="normal" fill="#2a2a2a" textLength="12.8" lengthAdjust="spacingAndGlyphs">0.8</text>
<line x1="35.0" y1="291.3" x2="38.2" y2="291.3" stroke="#111" stroke-width="1.1" />
<text x="32.6" y="295.0" font-size="10" text-anchor="end" font-weight="normal" font-style="normal" fill="#2a2a2a" textLength="12.8" lengthAdjust="spacingAndGlyphs">1.0</text>
<line x1="45.4" y1="473.4" x2="45.4" y2="476.59999999999997" stroke="#111" stroke-width="1.1" />
<text x="45.4" y="487.4" font-size="10" text-anchor="middle" font-weight="normal" font-style="normal" fill="#2a2a2a" textLength="5.8" lengthAdjust="spacingAndGlyphs">0</text>
<line x1="80.6" y1="473.4" x2="80.6" y2="476.59999999999997" stroke="#111" stroke-width="1.1" />
<text x="80.6" y="487.4" font-size="10" text-anchor="middle" font-weight="normal" font-style="normal" fill="#2a2a2a" textLength="5.8" lengthAdjust="spacingAndGlyphs">2</text>
<line x1="115.9" y1="473.4" x2="115.9" y2="476.59999999999997" stroke="#111" stroke-width="1.1" />
<text x="115.9" y="487.4" font-size="10" text-anchor="middle" font-weight="normal" font-style="normal" fill="#2a2a2a" textLength="5.8" lengthAdjust="spacingAndGlyphs">4</text>
<line x1="151.1" y1="473.4" x2="151.1" y2="476.59999999999997" stroke="#111" stroke-width="1.1" />
<text x="151.1" y="487.4" font-size="10" text-anchor="middle" font-weight="normal" font-style="normal" fill="#2a2a2a" textLength="5.8" lengthAdjust="spacingAndGlyphs">6</text>
<line x1="186.4" y1="473.4" x2="186.4" y2="476.59999999999997" stroke="#111" stroke-width="1.1" />
<text x="186.4" y="487.4" font-size="10" text-anchor="middle" font-weight="normal" font-style="normal" fill="#2a2a2a" textLength="5.8" lengthAdjust="spacingAndGlyphs">8</text>
<line x1="221.6" y1="473.4" x2="221.6" y2="476.59999999999997" stroke="#111" stroke-width="1.1" />
<text x="221.6" y="487.4" font-size="10" text-anchor="middle" font-weight="normal" font-style="normal" fill="#2a2a2a" textLength="10.2" lengthAdjust="spacingAndGlyphs">10</text>
<text x="146.8" y="502.2" font-size="11.2" text-anchor="middle" font-weight="normal" font-style="normal" fill="#2a2a2a" textLength="77.0" lengthAdjust="spacingAndGlyphs" stroke="#2a2a2a" stroke-width="0.2" stroke-linejoin="round">Years since CR or CRi</text>
<line x1="69.8" y1="296.1" x2="83.6" y2="296.1" stroke="#d4435e" stroke-width="1.5" />
<line x1="69.8" y1="306.5" x2="85.5" y2="306.5" stroke="#22638f" stroke-width="1.6" stroke-dasharray="2.9 2"/>
<text x="91.7" y="298.8" font-size="8.5" text-anchor="start" font-weight="normal" font-style="normal" fill="#2a2a2a" textLength="154.1" lengthAdjust="spacingAndGlyphs">MDS EB-2, n = 117, relapses/deaths = 72</text>
<text x="91.7" y="309.3" font-size="8.5" text-anchor="start" font-weight="normal" font-style="normal" fill="#2a2a2a" textLength="161.8" lengthAdjust="spacingAndGlyphs">WHO AML, n = 530, relapses/deaths = 283</text>
<text x="91.7" y="320.5" font-size="8.5" text-anchor="start" font-weight="normal" font-style="normal" fill="#2a2a2a" textLength="31.6" lengthAdjust="spacingAndGlyphs"><tspan font-style="italic">P</tspan> = 0.03</text>
<path d="M46.3,291.3 L48.6,302.2 L50.2,316.3 L52.5,327.3 L54.9,336.6 L58.0,346.0 L60.0,351.5 L62.3,359.2 L65.4,368.5 L69.2,375.4 L73.1,380.0 L77.7,383.8 L83.8,387.7 L90.0,390.8 L96.2,393.8 L102.3,396.9 L108.5,399.2 L116.2,400.8 L123.8,402.0 L130.0,403.1 L133.8,404.4 L147.5,405.0 L150.0,406.9 L158.8,406.9 L160.0,407.5 L165.0,408.5 L198.5,408.5 L200.5,410.9 L209.2,410.9 L211.9,414.6 L249.6,415.1" fill="none" stroke="#c3d8ea" stroke-width="1.3" stroke-linejoin="round" />
<line x1="55.3" y1="335.6" x2="55.3" y2="340.0" stroke="#8fb5d6" stroke-width="1.0" />
<line x1="53.6" y1="337.8" x2="57.0" y2="337.8" stroke="#8fb5d6" stroke-width="1.0" />
<line x1="57.2" y1="341.3" x2="57.2" y2="345.7" stroke="#8fb5d6" stroke-width="1.0" />
<line x1="55.5" y1="343.5" x2="58.9" y2="343.5" stroke="#8fb5d6" stroke-width="1.0" />
<line x1="68.1" y1="371.2" x2="68.1" y2="375.6" stroke="#8fb5d6" stroke-width="1.0" />
<line x1="66.4" y1="373.4" x2="69.8" y2="373.4" stroke="#8fb5d6" stroke-width="1.0" />
<line x1="68.3" y1="371.5" x2="68.3" y2="375.9" stroke="#8fb5d6" stroke-width="1.0" />
<line x1="66.6" y1="373.7" x2="70.0" y2="373.7" stroke="#8fb5d6" stroke-width="1.0" />
<line x1="74.6" y1="379.0" x2="74.6" y2="383.4" stroke="#8fb5d6" stroke-width="1.0" />
<line x1="72.9" y1="381.2" x2="76.3" y2="381.2" stroke="#8fb5d6" stroke-width="1.0" />
<line x1="78.1" y1="381.9" x2="78.1" y2="386.3" stroke="#8fb5d6" stroke-width="1.0" />
<line x1="76.4" y1="384.1" x2="79.8" y2="384.1" stroke="#8fb5d6" stroke-width="1.0" />
<line x1="84.8" y1="386.0" x2="84.8" y2="390.4" stroke="#8fb5d6" stroke-width="1.0" />
<line x1="83.1" y1="388.2" x2="86.5" y2="388.2" stroke="#8fb5d6" stroke-width="1.0" />
<line x1="92.5" y1="389.8" x2="92.5" y2="394.2" stroke="#8fb5d6" stroke-width="1.0" />
<line x1="90.8" y1="392.0" x2="94.2" y2="392.0" stroke="#8fb5d6" stroke-width="1.0" />
<line x1="93.3" y1="390.2" x2="93.3" y2="394.6" stroke="#8fb5d6" stroke-width="1.0" />
<line x1="91.6" y1="392.4" x2="95.0" y2="392.4" stroke="#8fb5d6" stroke-width="1.0" />
<line x1="95.2" y1="391.1" x2="95.2" y2="395.5" stroke="#8fb5d6" stroke-width="1.0" />
<line x1="93.5" y1="393.3" x2="96.9" y2="393.3" stroke="#8fb5d6" stroke-width="1.0" />
<line x1="95.5" y1="391.2" x2="95.5" y2="395.6" stroke="#8fb5d6" stroke-width="1.0" />
<line x1="93.8" y1="393.4" x2="97.2" y2="393.4" stroke="#8fb5d6" stroke-width="1.0" />
<line x1="96.5" y1="391.7" x2="96.5" y2="396.1" stroke="#8fb5d6" stroke-width="1.0" />
<line x1="94.8" y1="393.9" x2="98.2" y2="393.9" stroke="#8fb5d6" stroke-width="1.0" />
<line x1="96.8" y1="391.9" x2="96.8" y2="396.3" stroke="#8fb5d6" stroke-width="1.0" />
<line x1="95.1" y1="394.1" x2="98.5" y2="394.1" stroke="#8fb5d6" stroke-width="1.0" />
<line x1="97.5" y1="392.3" x2="97.5" y2="396.7" stroke="#8fb5d6" stroke-width="1.0" />
<line x1="95.8" y1="394.5" x2="99.2" y2="394.5" stroke="#8fb5d6" stroke-width="1.0" />
<line x1="98.7" y1="392.9" x2="98.7" y2="397.3" stroke="#8fb5d6" stroke-width="1.0" />
<line x1="97.0" y1="395.1" x2="100.4" y2="395.1" stroke="#8fb5d6" stroke-width="1.0" />
<line x1="99.8" y1="393.4" x2="99.8" y2="397.8" stroke="#8fb5d6" stroke-width="1.0" />
<line x1="98.1" y1="395.6" x2="101.5" y2="395.6" stroke="#8fb5d6" stroke-width="1.0" />
<line x1="101.5" y1="394.3" x2="101.5" y2="398.7" stroke="#8fb5d6" stroke-width="1.0" />
<line x1="99.8" y1="396.5" x2="103.2" y2="396.5" stroke="#8fb5d6" stroke-width="1.0" />
<line x1="103.4" y1="395.1" x2="103.4" y2="399.5" stroke="#8fb5d6" stroke-width="1.0" />
<line x1="101.7" y1="397.3" x2="105.1" y2="397.3" stroke="#8fb5d6" stroke-width="1.0" />
<line x1="104.0" y1="395.3" x2="104.0" y2="399.7" stroke="#8fb5d6" stroke-width="1.0" />
<line x1="102.3" y1="397.5" x2="105.7" y2="397.5" stroke="#8fb5d6" stroke-width="1.0" />
<line x1="110.0" y1="397.3" x2="110.0" y2="401.7" stroke="#8fb5d6" stroke-width="1.0" />
<line x1="108.3" y1="399.5" x2="111.7" y2="399.5" stroke="#8fb5d6" stroke-width="1.0" />
<line x1="110.0" y1="397.3" x2="110.0" y2="401.7" stroke="#8fb5d6" stroke-width="1.0" />
<line x1="108.3" y1="399.5" x2="111.7" y2="399.5" stroke="#8fb5d6" stroke-width="1.0" />
<line x1="111.5" y1="397.6" x2="111.5" y2="402.0" stroke="#8fb5d6" stroke-width="1.0" />
<line x1="109.8" y1="399.8" x2="113.2" y2="399.8" stroke="#8fb5d6" stroke-width="1.0" />
<line x1="114.4" y1="398.2" x2="114.4" y2="402.6" stroke="#8fb5d6" stroke-width="1.0" />
<line x1="112.7" y1="400.4" x2="116.1" y2="400.4" stroke="#8fb5d6" stroke-width="1.0" />
<line x1="117.3" y1="398.8" x2="117.3" y2="403.2" stroke="#8fb5d6" stroke-width="1.0" />
<line x1="115.6" y1="401.0" x2="119.0" y2="401.0" stroke="#8fb5d6" stroke-width="1.0" />
<line x1="119.0" y1="399.0" x2="119.0" y2="403.4" stroke="#8fb5d6" stroke-width="1.0" />
<line x1="117.3" y1="401.2" x2="120.7" y2="401.2" stroke="#8fb5d6" stroke-width="1.0" />
<line x1="119.1" y1="399.1" x2="119.1" y2="403.5" stroke="#8fb5d6" stroke-width="1.0" />
<line x1="117.4" y1="401.3" x2="120.8" y2="401.3" stroke="#8fb5d6" stroke-width="1.0" />
<line x1="120.7" y1="399.3" x2="120.7" y2="403.7" stroke="#8fb5d6" stroke-width="1.0" />
<line x1="119.0" y1="401.5" x2="122.4" y2="401.5" stroke="#8fb5d6" stroke-width="1.0" />
<line x1="120.9" y1="399.3" x2="120.9" y2="403.7" stroke="#8fb5d6" stroke-width="1.0" />
<line x1="119.2" y1="401.5" x2="122.6" y2="401.5" stroke="#8fb5d6" stroke-width="1.0" />
<line x1="121.5" y1="399.4" x2="121.5" y2="403.8" stroke="#8fb5d6" stroke-width="1.0" />
<line x1="119.8" y1="401.6" x2="123.2" y2="401.6" stroke="#8fb5d6" stroke-width="1.0" />
<line x1="123.7" y1="399.8" x2="123.7" y2="404.2" stroke="#8fb5d6" stroke-width="1.0" />
<line x1="122.0" y1="402.0" x2="125.4" y2="402.0" stroke="#8fb5d6" stroke-width="1.0" />
<line x1="126.2" y1="400.2" x2="126.2" y2="404.6" stroke="#8fb5d6" stroke-width="1.0" />
<line x1="124.5" y1="402.4" x2="127.9" y2="402.4" stroke="#8fb5d6" stroke-width="1.0" />
<line x1="127.9" y1="400.5" x2="127.9" y2="404.9" stroke="#8fb5d6" stroke-width="1.0" />
<line x1="126.2" y1="402.7" x2="129.6" y2="402.7" stroke="#8fb5d6" stroke-width="1.0" />
<line x1="130.5" y1="401.1" x2="130.5" y2="405.5" stroke="#8fb5d6" stroke-width="1.0" />
<line x1="128.8" y1="403.3" x2="132.2" y2="403.3" stroke="#8fb5d6" stroke-width="1.0" />
<line x1="131.1" y1="401.3" x2="131.1" y2="405.7" stroke="#8fb5d6" stroke-width="1.0" />
<line x1="129.4" y1="403.5" x2="132.8" y2="403.5" stroke="#8fb5d6" stroke-width="1.0" />
<line x1="131.7" y1="401.5" x2="131.7" y2="405.9" stroke="#8fb5d6" stroke-width="1.0" />
<line x1="130.0" y1="403.7" x2="133.4" y2="403.7" stroke="#8fb5d6" stroke-width="1.0" />
<line x1="133.2" y1="402.0" x2="133.2" y2="406.4" stroke="#8fb5d6" stroke-width="1.0" />
<line x1="131.5" y1="404.2" x2="134.9" y2="404.2" stroke="#8fb5d6" stroke-width="1.0" />
<line x1="133.3" y1="402.0" x2="133.3" y2="406.4" stroke="#8fb5d6" stroke-width="1.0" />
<line x1="131.6" y1="404.2" x2="135.0" y2="404.2" stroke="#8fb5d6" stroke-width="1.0" />
<line x1="134.9" y1="402.2" x2="134.9" y2="406.6" stroke="#8fb5d6" stroke-width="1.0" />
<line x1="133.2" y1="404.4" x2="136.6" y2="404.4" stroke="#8fb5d6" stroke-width="1.0" />
<line x1="136.0" y1="402.3" x2="136.0" y2="406.7" stroke="#8fb5d6" stroke-width="1.0" />
<line x1="134.3" y1="404.5" x2="137.7" y2="404.5" stroke="#8fb5d6" stroke-width="1.0" />
<line x1="136.7" y1="402.3" x2="136.7" y2="406.7" stroke="#8fb5d6" stroke-width="1.0" />
<line x1="135.0" y1="404.5" x2="138.4" y2="404.5" stroke="#8fb5d6" stroke-width="1.0" />
<line x1="138.5" y1="402.4" x2="138.5" y2="406.8" stroke="#8fb5d6" stroke-width="1.0" />
<line x1="136.8" y1="404.6" x2="140.2" y2="404.6" stroke="#8fb5d6" stroke-width="1.0" />
<line x1="138.5" y1="402.4" x2="138.5" y2="406.8" stroke="#8fb5d6" stroke-width="1.0" />
<line x1="136.8" y1="404.6" x2="140.2" y2="404.6" stroke="#8fb5d6" stroke-width="1.0" />
<line x1="140.1" y1="402.5" x2="140.1" y2="406.9" stroke="#8fb5d6" stroke-width="1.0" />
<line x1="138.4" y1="404.7" x2="141.8" y2="404.7" stroke="#8fb5d6" stroke-width="1.0" />
<line x1="143.5" y1="402.6" x2="143.5" y2="407.0" stroke="#8fb5d6" stroke-width="1.0" />
<line x1="141.8" y1="404.8" x2="145.2" y2="404.8" stroke="#8fb5d6" stroke-width="1.0" />
<line x1="144.2" y1="402.7" x2="144.2" y2="407.1" stroke="#8fb5d6" stroke-width="1.0" />
<line x1="142.5" y1="404.9" x2="145.9" y2="404.9" stroke="#8fb5d6" stroke-width="1.0" />
<line x1="144.3" y1="402.7" x2="144.3" y2="407.1" stroke="#8fb5d6" stroke-width="1.0" />
<line x1="142.6" y1="404.9" x2="146.0" y2="404.9" stroke="#8fb5d6" stroke-width="1.0" />
<line x1="147.7" y1="403.0" x2="147.7" y2="407.4" stroke="#8fb5d6" stroke-width="1.0" />
<line x1="146.0" y1="405.2" x2="149.4" y2="405.2" stroke="#8fb5d6" stroke-width="1.0" />
<line x1="148.0" y1="403.2" x2="148.0" y2="407.6" stroke="#8fb5d6" stroke-width="1.0" />
<line x1="146.3" y1="405.4" x2="149.7" y2="405.4" stroke="#8fb5d6" stroke-width="1.0" />
<line x1="149.4" y1="404.2" x2="149.4" y2="408.6" stroke="#8fb5d6" stroke-width="1.0" />
<line x1="147.7" y1="406.4" x2="151.1" y2="406.4" stroke="#8fb5d6" stroke-width="1.0" />
<line x1="149.8" y1="404.5" x2="149.8" y2="408.9" stroke="#8fb5d6" stroke-width="1.0" />
<line x1="148.1" y1="406.7" x2="151.5" y2="406.7" stroke="#8fb5d6" stroke-width="1.0" />
<line x1="151.8" y1="404.7" x2="151.8" y2="409.1" stroke="#8fb5d6" stroke-width="1.0" />
<line x1="150.1" y1="406.9" x2="153.5" y2="406.9" stroke="#8fb5d6" stroke-width="1.0" />
<line x1="154.6" y1="404.7" x2="154.6" y2="409.1" stroke="#8fb5d6" stroke-width="1.0" />
<line x1="152.9" y1="406.9" x2="156.3" y2="406.9" stroke="#8fb5d6" stroke-width="1.0" />
<line x1="155.8" y1="404.7" x2="155.8" y2="409.1" stroke="#8fb5d6" stroke-width="1.0" />
<line x1="154.1" y1="406.9" x2="157.5" y2="406.9" stroke="#8fb5d6" stroke-width="1.0" />
<line x1="156.5" y1="404.7" x2="156.5" y2="409.1" stroke="#8fb5d6" stroke-width="1.0" />
<line x1="154.8" y1="406.9" x2="158.2" y2="406.9" stroke="#8fb5d6" stroke-width="1.0" />
<line x1="157.8" y1="404.7" x2="157.8" y2="409.1" stroke="#8fb5d6" stroke-width="1.0" />
<line x1="156.1" y1="406.9" x2="159.5" y2="406.9" stroke="#8fb5d6" stroke-width="1.0" />
<line x1="159.0" y1="404.8" x2="159.0" y2="409.2" stroke="#8fb5d6" stroke-width="1.0" />
<line x1="157.3" y1="407.0" x2="160.7" y2="407.0" stroke="#8fb5d6" stroke-width="1.0" />
<line x1="160.5" y1="405.4" x2="160.5" y2="409.8" stroke="#8fb5d6" stroke-width="1.0" />
<line x1="158.8" y1="407.6" x2="162.2" y2="407.6" stroke="#8fb5d6" stroke-width="1.0" />
<line x1="162.0" y1="405.7" x2="162.0" y2="410.1" stroke="#8fb5d6" stroke-width="1.0" />
<line x1="160.3" y1="407.9" x2="163.7" y2="407.9" stroke="#8fb5d6" stroke-width="1.0" />
<line x1="162.5" y1="405.8" x2="162.5" y2="410.2" stroke="#8fb5d6" stroke-width="1.0" />
<line x1="160.8" y1="408.0" x2="164.2" y2="408.0" stroke="#8fb5d6" stroke-width="1.0" />
<line x1="163.0" y1="405.9" x2="163.0" y2="410.3" stroke="#8fb5d6" stroke-width="1.0" />
<line x1="161.3" y1="408.1" x2="164.7" y2="408.1" stroke="#8fb5d6" stroke-width="1.0" />
<line x1="163.6" y1="406.0" x2="163.6" y2="410.4" stroke="#8fb5d6" stroke-width="1.0" />
<line x1="161.9" y1="408.2" x2="165.3" y2="408.2" stroke="#8fb5d6" stroke-width="1.0" />
<line x1="165.8" y1="406.3" x2="165.8" y2="410.7" stroke="#8fb5d6" stroke-width="1.0" />
<line x1="164.1" y1="408.5" x2="167.5" y2="408.5" stroke="#8fb5d6" stroke-width="1.0" />
<line x1="165.9" y1="406.3" x2="165.9" y2="410.7" stroke="#8fb5d6" stroke-width="1.0" />
<line x1="164.2" y1="408.5" x2="167.6" y2="408.5" stroke="#8fb5d6" stroke-width="1.0" />
<line x1="166.7" y1="406.3" x2="166.7" y2="410.7" stroke="#8fb5d6" stroke-width="1.0" />
<line x1="165.0" y1="408.5" x2="168.4" y2="408.5" stroke="#8fb5d6" stroke-width="1.0" />
<line x1="167.6" y1="406.3" x2="167.6" y2="410.7" stroke="#8fb5d6" stroke-width="1.0" />
<line x1="165.9" y1="408.5" x2="169.3" y2="408.5" stroke="#8fb5d6" stroke-width="1.0" />
<line x1="169.8" y1="406.3" x2="169.8" y2="410.7" stroke="#8fb5d6" stroke-width="1.0" />
<line x1="168.1" y1="408.5" x2="171.5" y2="408.5" stroke="#8fb5d6" stroke-width="1.0" />
<line x1="170.9" y1="406.3" x2="170.9" y2="410.7" stroke="#8fb5d6" stroke-width="1.0" />
<line x1="169.2" y1="408.5" x2="172.6" y2="408.5" stroke="#8fb5d6" stroke-width="1.0" />
<line x1="175.0" y1="406.3" x2="175.0" y2="410.7" stroke="#8fb5d6" stroke-width="1.0" />
<line x1="173.3" y1="408.5" x2="176.7" y2="408.5" stroke="#8fb5d6" stroke-width="1.0" />
<line x1="175.1" y1="406.3" x2="175.1" y2="410.7" stroke="#8fb5d6" stroke-width="1.0" />
<line x1="173.4" y1="408.5" x2="176.8" y2="408.5" stroke="#8fb5d6" stroke-width="1.0" />
<line x1="177.0" y1="406.3" x2="177.0" y2="410.7" stroke="#8fb5d6" stroke-width="1.0" />
<line x1="175.3" y1="408.5" x2="178.7" y2="408.5" stroke="#8fb5d6" stroke-width="1.0" />
<line x1="177.0" y1="406.3" x2="177.0" y2="410.7" stroke="#8fb5d6" stroke-width="1.0" />
<line x1="175.3" y1="408.5" x2="178.7" y2="408.5" stroke="#8fb5d6" stroke-width="1.0" />
<line x1="177.3" y1="406.3" x2="177.3" y2="410.7" stroke="#8fb5d6" stroke-width="1.0" />
<line x1="175.6" y1="408.5" x2="179.0" y2="408.5" stroke="#8fb5d6" stroke-width="1.0" />
<line x1="177.6" y1="406.3" x2="177.6" y2="410.7" stroke="#8fb5d6" stroke-width="1.0" />
<line x1="175.9" y1="408.5" x2="179.3" y2="408.5" stroke="#8fb5d6" stroke-width="1.0" />
<line x1="178.0" y1="406.3" x2="178.0" y2="410.7" stroke="#8fb5d6" stroke-width="1.0" />
<line x1="176.3" y1="408.5" x2="179.7" y2="408.5" stroke="#8fb5d6" stroke-width="1.0" />
<line x1="180.3" y1="406.3" x2="180.3" y2="410.7" stroke="#8fb5d6" stroke-width="1.0" />
<line x1="178.6" y1="408.5" x2="182.0" y2="408.5" stroke="#8fb5d6" stroke-width="1.0" />
<line x1="182.1" y1="406.3" x2="182.1" y2="410.7" stroke="#8fb5d6" stroke-width="1.0" />
<line x1="180.4" y1="408.5" x2="183.8" y2="408.5" stroke="#8fb5d6" stroke-width="1.0" />
<line x1="183.0" y1="406.3" x2="183.0" y2="410.7" stroke="#8fb5d6" stroke-width="1.0" />
<line x1="181.3" y1="408.5" x2="184.7" y2="408.5" stroke="#8fb5d6" stroke-width="1.0" />
<line x1="183.0" y1="406.3" x2="183.0" y2="410.7" stroke="#8fb5d6" stroke-width="1.0" />
<line x1="181.3" y1="408.5" x2="184.7" y2="408.5" stroke="#8fb5d6" stroke-width="1.0" />
<line x1="187.2" y1="406.3" x2="187.2" y2="410.7" stroke="#8fb5d6" stroke-width="1.0" />
<line x1="185.5" y1="408.5" x2="188.9" y2="408.5" stroke="#8fb5d6" stroke-width="1.0" />
<line x1="189.2" y1="406.3" x2="189.2" y2="410.7" stroke="#8fb5d6" stroke-width="1.0" />
<line x1="187.5" y1="408.5" x2="190.9" y2="408.5" stroke="#8fb5d6" stroke-width="1.0" />
<line x1="190.2" y1="406.3" x2="190.2" y2="410.7" stroke="#8fb5d6" stroke-width="1.0" />
<line x1="188.5" y1="408.5" x2="191.9" y2="408.5" stroke="#8fb5d6" stroke-width="1.0" />
<line x1="190.3" y1="406.3" x2="190.3" y2="410.7" stroke="#8fb5d6" stroke-width="1.0" />
<line x1="188.6" y1="408.5" x2="192.0" y2="408.5" stroke="#8fb5d6" stroke-width="1.0" />
<line x1="192.5" y1="406.3" x2="192.5" y2="410.7" stroke="#8fb5d6" stroke-width="1.0" />
<line x1="190.8" y1="408.5" x2="194.2" y2="408.5" stroke="#8fb5d6" stroke-width="1.0" />
<line x1="192.7" y1="406.3" x2="192.7" y2="410.7" stroke="#8fb5d6" stroke-width="1.0" />
<line x1="191.0" y1="408.5" x2="194.4" y2="408.5" stroke="#8fb5d6" stroke-width="1.0" />
<line x1="193.4" y1="406.3" x2="193.4" y2="410.7" stroke="#8fb5d6" stroke-width="1.0" />
<line x1="191.7" y1="408.5" x2="195.1" y2="408.5" stroke="#8fb5d6" stroke-width="1.0" />
<line x1="193.5" y1="406.3" x2="193.5" y2="410.7" stroke="#8fb5d6" stroke-width="1.0" />
<line x1="191.8" y1="408.5" x2="195.2" y2="408.5" stroke="#8fb5d6" stroke-width="1.0" />
<line x1="193.5" y1="406.3" x2="193.5" y2="410.7" stroke="#8fb5d6" stroke-width="1.0" />
<line x1="191.8" y1="408.5" x2="195.2" y2="408.5" stroke="#8fb5d6" stroke-width="1.0" />
<line x1="193.8" y1="406.3" x2="193.8" y2="410.7" stroke="#8fb5d6" stroke-width="1.0" />
<line x1="192.1" y1="408.5" x2="195.5" y2="408.5" stroke="#8fb5d6" stroke-width="1.0" />
<line x1="195.5" y1="406.3" x2="195.5" y2="410.7" stroke="#8fb5d6" stroke-width="1.0" />
<line x1="193.8" y1="408.5" x2="197.2" y2="408.5" stroke="#8fb5d6" stroke-width="1.0" />
<line x1="198.0" y1="406.3" x2="198.0" y2="410.7" stroke="#8fb5d6" stroke-width="1.0" />
<line x1="196.3" y1="408.5" x2="199.7" y2="408.5" stroke="#8fb5d6" stroke-width="1.0" />
<line x1="202.0" y1="408.7" x2="202.0" y2="413.1" stroke="#8fb5d6" stroke-width="1.0" />
<line x1="200.3" y1="410.9" x2="203.7" y2="410.9" stroke="#8fb5d6" stroke-width="1.0" />
<line x1="203.6" y1="408.7" x2="203.6" y2="413.1" stroke="#8fb5d6" stroke-width="1.0" />
<line x1="201.9" y1="410.9" x2="205.3" y2="410.9" stroke="#8fb5d6" stroke-width="1.0" />
<line x1="205.2" y1="408.7" x2="205.2" y2="413.1" stroke="#8fb5d6" stroke-width="1.0" />
<line x1="203.5" y1="410.9" x2="206.9" y2="410.9" stroke="#8fb5d6" stroke-width="1.0" />
<line x1="205.5" y1="408.7" x2="205.5" y2="413.1" stroke="#8fb5d6" stroke-width="1.0" />
<line x1="203.8" y1="410.9" x2="207.2" y2="410.9" stroke="#8fb5d6" stroke-width="1.0" />
<line x1="206.4" y1="408.7" x2="206.4" y2="413.1" stroke="#8fb5d6" stroke-width="1.0" />
<line x1="204.7" y1="410.9" x2="208.1" y2="410.9" stroke="#8fb5d6" stroke-width="1.0" />
<line x1="206.4" y1="408.7" x2="206.4" y2="413.1" stroke="#8fb5d6" stroke-width="1.0" />
<line x1="204.7" y1="410.9" x2="208.1" y2="410.9" stroke="#8fb5d6" stroke-width="1.0" />
<line x1="206.6" y1="408.7" x2="206.6" y2="413.1" stroke="#8fb5d6" stroke-width="1.0" />
<line x1="204.9" y1="410.9" x2="208.3" y2="410.9" stroke="#8fb5d6" stroke-width="1.0" />
<line x1="206.6" y1="408.7" x2="206.6" y2="413.1" stroke="#8fb5d6" stroke-width="1.0" />
<line x1="204.9" y1="410.9" x2="208.3" y2="410.9" stroke="#8fb5d6" stroke-width="1.0" />
<line x1="206.7" y1="408.7" x2="206.7" y2="413.1" stroke="#8fb5d6" stroke-width="1.0" />
<line x1="205.0" y1="410.9" x2="208.4" y2="410.9" stroke="#8fb5d6" stroke-width="1.0" />
<line x1="208.8" y1="408.7" x2="208.8" y2="413.1" stroke="#8fb5d6" stroke-width="1.0" />
<line x1="207.1" y1="410.9" x2="210.5" y2="410.9" stroke="#8fb5d6" stroke-width="1.0" />
<line x1="208.8" y1="408.7" x2="208.8" y2="413.1" stroke="#8fb5d6" stroke-width="1.0" />
<line x1="207.1" y1="410.9" x2="210.5" y2="410.9" stroke="#8fb5d6" stroke-width="1.0" />
<line x1="210.7" y1="410.8" x2="210.7" y2="415.2" stroke="#8fb5d6" stroke-width="1.0" />
<line x1="209.0" y1="413.0" x2="212.4" y2="413.0" stroke="#8fb5d6" stroke-width="1.0" />
<line x1="210.8" y1="410.9" x2="210.8" y2="415.3" stroke="#8fb5d6" stroke-width="1.0" />
<line x1="209.1" y1="413.1" x2="212.5" y2="413.1" stroke="#8fb5d6" stroke-width="1.0" />
<line x1="212.2" y1="412.4" x2="212.2" y2="416.8" stroke="#8fb5d6" stroke-width="1.0" />
<line x1="210.5" y1="414.6" x2="213.9" y2="414.6" stroke="#8fb5d6" stroke-width="1.0" />
<line x1="212.5" y1="412.4" x2="212.5" y2="416.8" stroke="#8fb5d6" stroke-width="1.0" />
<line x1="210.8" y1="414.6" x2="214.2" y2="414.6" stroke="#8fb5d6" stroke-width="1.0" />
<line x1="212.7" y1="412.4" x2="212.7" y2="416.8" stroke="#8fb5d6" stroke-width="1.0" />
<line x1="211.0" y1="414.6" x2="214.4" y2="414.6" stroke="#8fb5d6" stroke-width="1.0" />
<line x1="213.0" y1="412.4" x2="213.0" y2="416.8" stroke="#8fb5d6" stroke-width="1.0" />
<line x1="211.3" y1="414.6" x2="214.7" y2="414.6" stroke="#8fb5d6" stroke-width="1.0" />
<line x1="214.1" y1="412.4" x2="214.1" y2="416.8" stroke="#8fb5d6" stroke-width="1.0" />
<line x1="212.4" y1="414.6" x2="215.8" y2="414.6" stroke="#8fb5d6" stroke-width="1.0" />
<line x1="214.7" y1="412.4" x2="214.7" y2="416.8" stroke="#8fb5d6" stroke-width="1.0" />
<line x1="213.0" y1="414.6" x2="216.4" y2="414.6" stroke="#8fb5d6" stroke-width="1.0" />
<line x1="214.8" y1="412.4" x2="214.8" y2="416.8" stroke="#8fb5d6" stroke-width="1.0" />
<line x1="213.1" y1="414.6" x2="216.5" y2="414.6" stroke="#8fb5d6" stroke-width="1.0" />
<line x1="216.6" y1="412.5" x2="216.6" y2="416.9" stroke="#8fb5d6" stroke-width="1.0" />
<line x1="214.9" y1="414.7" x2="218.3" y2="414.7" stroke="#8fb5d6" stroke-width="1.0" />
<line x1="216.7" y1="412.5" x2="216.7" y2="416.9" stroke="#8fb5d6" stroke-width="1.0" />
<line x1="215.0" y1="414.7" x2="218.4" y2="414.7" stroke="#8fb5d6" stroke-width="1.0" />
<line x1="216.8" y1="412.5" x2="216.8" y2="416.9" stroke="#8fb5d6" stroke-width="1.0" />
<line x1="215.1" y1="414.7" x2="218.5" y2="414.7" stroke="#8fb5d6" stroke-width="1.0" />
<line x1="217.5" y1="412.5" x2="217.5" y2="416.9" stroke="#8fb5d6" stroke-width="1.0" />
<line x1="215.8" y1="414.7" x2="219.2" y2="414.7" stroke="#8fb5d6" stroke-width="1.0" />
<line x1="217.8" y1="412.5" x2="217.8" y2="416.9" stroke="#8fb5d6" stroke-width="1.0" />
<line x1="216.1" y1="414.7" x2="219.5" y2="414.7" stroke="#8fb5d6" stroke-width="1.0" />
<line x1="218.0" y1="412.5" x2="218.0" y2="416.9" stroke="#8fb5d6" stroke-width="1.0" />
<line x1="216.3" y1="414.7" x2="219.7" y2="414.7" stroke="#8fb5d6" stroke-width="1.0" />
<line x1="219.3" y1="412.5" x2="219.3" y2="416.9" stroke="#8fb5d6" stroke-width="1.0" />
<line x1="217.6" y1="414.7" x2="221.0" y2="414.7" stroke="#8fb5d6" stroke-width="1.0" />
<line x1="220.0" y1="412.5" x2="220.0" y2="416.9" stroke="#8fb5d6" stroke-width="1.0" />
<line x1="218.3" y1="414.7" x2="221.7" y2="414.7" stroke="#8fb5d6" stroke-width="1.0" />
<line x1="220.2" y1="412.5" x2="220.2" y2="416.9" stroke="#8fb5d6" stroke-width="1.0" />
<line x1="218.5" y1="414.7" x2="221.9" y2="414.7" stroke="#8fb5d6" stroke-width="1.0" />
<line x1="220.3" y1="412.5" x2="220.3" y2="416.9" stroke="#8fb5d6" stroke-width="1.0" />
<line x1="218.6" y1="414.7" x2="222.0" y2="414.7" stroke="#8fb5d6" stroke-width="1.0" />
<line x1="222.7" y1="412.5" x2="222.7" y2="416.9" stroke="#8fb5d6" stroke-width="1.0" />
<line x1="221.0" y1="414.7" x2="224.4" y2="414.7" stroke="#8fb5d6" stroke-width="1.0" />
<line x1="223.5" y1="412.6" x2="223.5" y2="417.0" stroke="#8fb5d6" stroke-width="1.0" />
<line x1="221.8" y1="414.8" x2="225.2" y2="414.8" stroke="#8fb5d6" stroke-width="1.0" />
<line x1="226.5" y1="412.6" x2="226.5" y2="417.0" stroke="#8fb5d6" stroke-width="1.0" />
<line x1="224.8" y1="414.8" x2="228.2" y2="414.8" stroke="#8fb5d6" stroke-width="1.0" />
<line x1="227.4" y1="412.6" x2="227.4" y2="417.0" stroke="#8fb5d6" stroke-width="1.0" />
<line x1="225.7" y1="414.8" x2="229.1" y2="414.8" stroke="#8fb5d6" stroke-width="1.0" />
<line x1="228.1" y1="412.6" x2="228.1" y2="417.0" stroke="#8fb5d6" stroke-width="1.0" />
<line x1="226.4" y1="414.8" x2="229.8" y2="414.8" stroke="#8fb5d6" stroke-width="1.0" />
<line x1="228.2" y1="412.6" x2="228.2" y2="417.0" stroke="#8fb5d6" stroke-width="1.0" />
<line x1="226.5" y1="414.8" x2="229.9" y2="414.8" stroke="#8fb5d6" stroke-width="1.0" />
<line x1="228.4" y1="412.6" x2="228.4" y2="417.0" stroke="#8fb5d6" stroke-width="1.0" />
<line x1="226.7" y1="414.8" x2="230.1" y2="414.8" stroke="#8fb5d6" stroke-width="1.0" />
<line x1="229.1" y1="412.6" x2="229.1" y2="417.0" stroke="#8fb5d6" stroke-width="1.0" />
<line x1="227.4" y1="414.8" x2="230.8" y2="414.8" stroke="#8fb5d6" stroke-width="1.0" />
<line x1="229.4" y1="412.6" x2="229.4" y2="417.0" stroke="#8fb5d6" stroke-width="1.0" />
<line x1="227.7" y1="414.8" x2="231.1" y2="414.8" stroke="#8fb5d6" stroke-width="1.0" />
<line x1="230.7" y1="412.6" x2="230.7" y2="417.0" stroke="#8fb5d6" stroke-width="1.0" />
<line x1="229.0" y1="414.8" x2="232.4" y2="414.8" stroke="#8fb5d6" stroke-width="1.0" />
<line x1="230.7" y1="412.6" x2="230.7" y2="417.0" stroke="#8fb5d6" stroke-width="1.0" />
<line x1="229.0" y1="414.8" x2="232.4" y2="414.8" stroke="#8fb5d6" stroke-width="1.0" />
<line x1="231.1" y1="412.7" x2="231.1" y2="417.1" stroke="#8fb5d6" stroke-width="1.0" />
<line x1="229.4" y1="414.9" x2="232.8" y2="414.9" stroke="#8fb5d6" stroke-width="1.0" />
<line x1="231.3" y1="412.7" x2="231.3" y2="417.1" stroke="#8fb5d6" stroke-width="1.0" />
<line x1="229.6" y1="414.9" x2="233.0" y2="414.9" stroke="#8fb5d6" stroke-width="1.0" />
<line x1="232.2" y1="412.7" x2="232.2" y2="417.1" stroke="#8fb5d6" stroke-width="1.0" />
<line x1="230.5" y1="414.9" x2="233.9" y2="414.9" stroke="#8fb5d6" stroke-width="1.0" />
<line x1="234.1" y1="412.7" x2="234.1" y2="417.1" stroke="#8fb5d6" stroke-width="1.0" />
<line x1="232.4" y1="414.9" x2="235.8" y2="414.9" stroke="#8fb5d6" stroke-width="1.0" />
<line x1="235.0" y1="412.7" x2="235.0" y2="417.1" stroke="#8fb5d6" stroke-width="1.0" />
<line x1="233.3" y1="414.9" x2="236.7" y2="414.9" stroke="#8fb5d6" stroke-width="1.0" />
<line x1="235.0" y1="412.7" x2="235.0" y2="417.1" stroke="#8fb5d6" stroke-width="1.0" />
<line x1="233.3" y1="414.9" x2="236.7" y2="414.9" stroke="#8fb5d6" stroke-width="1.0" />
<line x1="236.3" y1="412.7" x2="236.3" y2="417.1" stroke="#8fb5d6" stroke-width="1.0" />
<line x1="234.6" y1="414.9" x2="238.0" y2="414.9" stroke="#8fb5d6" stroke-width="1.0" />
<line x1="236.6" y1="412.7" x2="236.6" y2="417.1" stroke="#8fb5d6" stroke-width="1.0" />
<line x1="234.9" y1="414.9" x2="238.3" y2="414.9" stroke="#8fb5d6" stroke-width="1.0" />
<line x1="237.7" y1="412.7" x2="237.7" y2="417.1" stroke="#8fb5d6" stroke-width="1.0" />
<line x1="236.0" y1="414.9" x2="239.4" y2="414.9" stroke="#8fb5d6" stroke-width="1.0" />
<line x1="238.7" y1="412.8" x2="238.7" y2="417.2" stroke="#8fb5d6" stroke-width="1.0" />
<line x1="237.0" y1="415.0" x2="240.4" y2="415.0" stroke="#8fb5d6" stroke-width="1.0" />
<line x1="241.0" y1="412.8" x2="241.0" y2="417.2" stroke="#8fb5d6" stroke-width="1.0" />
<line x1="239.3" y1="415.0" x2="242.7" y2="415.0" stroke="#8fb5d6" stroke-width="1.0" />
<line x1="241.8" y1="412.8" x2="241.8" y2="417.2" stroke="#8fb5d6" stroke-width="1.0" />
<line x1="240.1" y1="415.0" x2="243.5" y2="415.0" stroke="#8fb5d6" stroke-width="1.0" />
<line x1="243.2" y1="412.8" x2="243.2" y2="417.2" stroke="#8fb5d6" stroke-width="1.0" />
<line x1="241.5" y1="415.0" x2="244.9" y2="415.0" stroke="#8fb5d6" stroke-width="1.0" />
<line x1="243.3" y1="412.8" x2="243.3" y2="417.2" stroke="#8fb5d6" stroke-width="1.0" />
<line x1="241.6" y1="415.0" x2="245.0" y2="415.0" stroke="#8fb5d6" stroke-width="1.0" />
<line x1="243.5" y1="412.8" x2="243.5" y2="417.2" stroke="#8fb5d6" stroke-width="1.0" />
<line x1="241.8" y1="415.0" x2="245.2" y2="415.0" stroke="#8fb5d6" stroke-width="1.0" />
<line x1="244.0" y1="412.8" x2="244.0" y2="417.2" stroke="#8fb5d6" stroke-width="1.0" />
<line x1="242.3" y1="415.0" x2="245.7" y2="415.0" stroke="#8fb5d6" stroke-width="1.0" />
<line x1="244.1" y1="412.8" x2="244.1" y2="417.2" stroke="#8fb5d6" stroke-width="1.0" />
<line x1="242.4" y1="415.0" x2="245.8" y2="415.0" stroke="#8fb5d6" stroke-width="1.0" />
<line x1="245.7" y1="412.8" x2="245.7" y2="417.2" stroke="#8fb5d6" stroke-width="1.0" />
<line x1="244.0" y1="415.0" x2="247.4" y2="415.0" stroke="#8fb5d6" stroke-width="1.0" />
<line x1="247.9" y1="412.9" x2="247.9" y2="417.3" stroke="#8fb5d6" stroke-width="1.0" />
<line x1="246.2" y1="415.1" x2="249.6" y2="415.1" stroke="#8fb5d6" stroke-width="1.0" />
<path d="M46.0,289.0 L47.0,300.6 L48.6,324.1 L50.2,336.6 L51.7,347.6 L52.3,350.0 L53.8,359.2 L55.4,366.9 L58.5,371.5 L60.0,379.2 L63.1,385.4 L65.4,388.5 L70.0,392.3 L73.1,396.2 L75.4,400.0 L80.8,400.8 L81.5,403.5 L93.1,403.5 L96.2,405.1 L100.8,406.2 L103.8,408.5 L106.9,412.3 L126.9,412.3 L128.8,413.1 L129.4,415.3 L249.6,415.3" fill="none" stroke="#d4435e" stroke-width="1.4" stroke-linejoin="round" />
<line x1="84" y1="401.2" x2="84" y2="405.8" stroke="#e07890" stroke-width="0.9" />
<line x1="88" y1="401.2" x2="88" y2="405.8" stroke="#e07890" stroke-width="0.9" />
<line x1="95" y1="402.2" x2="95" y2="406.8" stroke="#e07890" stroke-width="0.9" />
<line x1="135" y1="413.0" x2="135" y2="417.6" stroke="#e07890" stroke-width="0.9" />
<line x1="139" y1="413.0" x2="139" y2="417.6" stroke="#e07890" stroke-width="0.9" />
<line x1="143" y1="413.0" x2="143" y2="417.6" stroke="#e07890" stroke-width="0.9" />
<line x1="147" y1="413.0" x2="147" y2="417.6" stroke="#e07890" stroke-width="0.9" />
<line x1="152" y1="413.0" x2="152" y2="417.6" stroke="#e07890" stroke-width="0.9" />
<line x1="156" y1="413.0" x2="156" y2="417.6" stroke="#e07890" stroke-width="0.9" />
<line x1="159" y1="413.0" x2="159" y2="417.6" stroke="#e07890" stroke-width="0.9" />
<line x1="163" y1="413.0" x2="163" y2="417.6" stroke="#e07890" stroke-width="0.9" />
<line x1="170" y1="413.0" x2="170" y2="417.6" stroke="#e07890" stroke-width="0.9" />
<line x1="182" y1="413.0" x2="182" y2="417.6" stroke="#e07890" stroke-width="0.9" />
<line x1="187" y1="413.0" x2="187" y2="417.6" stroke="#e07890" stroke-width="0.9" />
<line x1="190" y1="413.0" x2="190" y2="417.6" stroke="#e07890" stroke-width="0.9" />
<line x1="218" y1="413.0" x2="218" y2="417.6" stroke="#e07890" stroke-width="0.9" />
<line x1="246" y1="413.0" x2="246" y2="417.6" stroke="#e07890" stroke-width="0.9" />
<line x1="46.6" y1="290.5" x2="46.6" y2="294.9" stroke="#8fb5d6" stroke-width="1.0" />
<line x1="44.9" y1="292.7" x2="48.3" y2="292.7" stroke="#8fb5d6" stroke-width="1.0" />
<line x1="47.3" y1="293.8" x2="47.3" y2="298.2" stroke="#8fb5d6" stroke-width="1.0" />
<line x1="45.6" y1="296.0" x2="49.0" y2="296.0" stroke="#8fb5d6" stroke-width="1.0" />
<line x1="48.1" y1="297.6" x2="48.1" y2="302.0" stroke="#8fb5d6" stroke-width="1.0" />
<line x1="46.4" y1="299.8" x2="49.8" y2="299.8" stroke="#8fb5d6" stroke-width="1.0" />
<line x1="49.0" y1="303.5" x2="49.0" y2="307.9" stroke="#8fb5d6" stroke-width="1.0" />
<line x1="47.3" y1="305.7" x2="50.7" y2="305.7" stroke="#8fb5d6" stroke-width="1.0" />
<line x1="50.0" y1="312.3" x2="50.0" y2="316.7" stroke="#8fb5d6" stroke-width="1.0" />
<line x1="48.3" y1="314.5" x2="51.7" y2="314.5" stroke="#8fb5d6" stroke-width="1.0" />
<line x1="51.2" y1="318.9" x2="51.2" y2="323.3" stroke="#8fb5d6" stroke-width="1.0" />
<line x1="49.5" y1="321.1" x2="52.9" y2="321.1" stroke="#8fb5d6" stroke-width="1.0" />
<line x1="52.6" y1="325.5" x2="52.6" y2="329.9" stroke="#8fb5d6" stroke-width="1.0" />
<line x1="50.9" y1="327.7" x2="54.3" y2="327.7" stroke="#8fb5d6" stroke-width="1.0" />
<line x1="54.0" y1="330.9" x2="54.0" y2="335.3" stroke="#8fb5d6" stroke-width="1.0" />
<line x1="52.3" y1="333.1" x2="55.7" y2="333.1" stroke="#8fb5d6" stroke-width="1.0" />
<line x1="55.6" y1="336.5" x2="55.6" y2="340.9" stroke="#8fb5d6" stroke-width="1.0" />
<line x1="53.9" y1="338.7" x2="57.3" y2="338.7" stroke="#8fb5d6" stroke-width="1.0" />
<line x1="57.3" y1="341.7" x2="57.3" y2="346.1" stroke="#8fb5d6" stroke-width="1.0" />
<line x1="55.6" y1="343.9" x2="59.0" y2="343.9" stroke="#8fb5d6" stroke-width="1.0" />
<line x1="59.2" y1="347.1" x2="59.2" y2="351.5" stroke="#8fb5d6" stroke-width="1.0" />
<line x1="57.5" y1="349.3" x2="60.9" y2="349.3" stroke="#8fb5d6" stroke-width="1.0" />
<path d="M46.3,291.3 L48.6,302.2 L50.2,316.3 L52.5,327.3 L54.9,336.6 L58.0,346.0 L60.0,351.5 L62.3,359.2 L65.4,368.5 L69.2,375.4 L73.1,380.0 L77.7,383.8 L83.8,387.7 L90.0,390.8 L96.2,393.8 L102.3,396.9 L108.5,399.2 L116.2,400.8 L123.8,402.0 L130.0,403.1 L133.8,404.4 L147.5,405.0 L150.0,406.9 L158.8,406.9 L160.0,407.5 L165.0,408.5 L198.5,408.5 L200.5,410.9 L209.2,410.9 L211.9,414.6 L249.6,415.1" fill="none" stroke="#22638f" stroke-width="1.5" stroke-linejoin="round" stroke-dasharray="4 2.4"/>
<text x="266.3" y="272.0" font-size="13.4" text-anchor="start" font-weight="bold" font-style="normal" fill="#000" stroke="#000" stroke-width="0.45" stroke-linejoin="round">D</text>
<text x="348.3" y="270.0" font-size="10.8" text-anchor="start" font-weight="bold" font-style="normal" fill="#000" textLength="109.2" lengthAdjust="spacingAndGlyphs" stroke="#000" stroke-width="0.45" stroke-linejoin="round">Relapse-free Survival</text>
<text x="329.2" y="282.6" font-size="10.8" text-anchor="start" font-weight="bold" font-style="normal" fill="#000" textLength="145.8" lengthAdjust="spacingAndGlyphs" stroke="#000" stroke-width="0.45" stroke-linejoin="round">(CR without MRD subgroup)</text>
<line x1="293.3" y1="285.6" x2="293.3" y2="474.0" stroke="#111" stroke-width="1.5" />
<line x1="292.6" y1="473.3" x2="506.7" y2="473.3" stroke="#111" stroke-width="1.5" />
<line x1="290.1" y1="466.4" x2="293.3" y2="466.4" stroke="#111" stroke-width="1.1" />
<text x="287.70000000000005" y="470.1" font-size="10" text-anchor="end" font-weight="normal" font-style="normal" fill="#2a2a2a" textLength="12.8" lengthAdjust="spacingAndGlyphs">0.0</text>
<line x1="290.1" y1="431.4" x2="293.3" y2="431.4" stroke="#111" stroke-width="1.1" />
<text x="287.70000000000005" y="435.1" font-size="10" text-anchor="end" font-weight="normal" font-style="normal" fill="#2a2a2a" textLength="12.8" lengthAdjust="spacingAndGlyphs">0.2</text>
<line x1="290.1" y1="396.4" x2="293.3" y2="396.4" stroke="#111" stroke-width="1.1" />
<text x="287.70000000000005" y="400.1" font-size="10" text-anchor="end" font-weight="normal" font-style="normal" fill="#2a2a2a" textLength="12.8" lengthAdjust="spacingAndGlyphs">0.4</text>
<line x1="290.1" y1="361.3" x2="293.3" y2="361.3" stroke="#111" stroke-width="1.1" />
<text x="287.70000000000005" y="365.0" font-size="10" text-anchor="end" font-weight="normal" font-style="normal" fill="#2a2a2a" textLength="12.8" lengthAdjust="spacingAndGlyphs">0.6</text>
<line x1="290.1" y1="326.2" x2="293.3" y2="326.2" stroke="#111" stroke-width="1.1" />
<text x="287.70000000000005" y="329.9" font-size="10" text-anchor="end" font-weight="normal" font-style="normal" fill="#2a2a2a" textLength="12.8" lengthAdjust="spacingAndGlyphs">0.8</text>
<line x1="290.1" y1="291.2" x2="293.3" y2="291.2" stroke="#111" stroke-width="1.1" />
<text x="287.70000000000005" y="294.9" font-size="10" text-anchor="end" font-weight="normal" font-style="normal" fill="#2a2a2a" textLength="12.8" lengthAdjust="spacingAndGlyphs">1.0</text>
<line x1="300.4" y1="473.3" x2="300.4" y2="476.5" stroke="#111" stroke-width="1.1" />
<text x="300.4" y="487.3" font-size="10" text-anchor="middle" font-weight="normal" font-style="normal" fill="#2a2a2a" textLength="5.8" lengthAdjust="spacingAndGlyphs">0</text>
<line x1="335.7" y1="473.3" x2="335.7" y2="476.5" stroke="#111" stroke-width="1.1" />
<text x="335.7" y="487.3" font-size="10" text-anchor="middle" font-weight="normal" font-style="normal" fill="#2a2a2a" textLength="5.8" lengthAdjust="spacingAndGlyphs">2</text>
<line x1="371.0" y1="473.3" x2="371.0" y2="476.5" stroke="#111" stroke-width="1.1" />
<text x="371.0" y="487.3" font-size="10" text-anchor="middle" font-weight="normal" font-style="normal" fill="#2a2a2a" textLength="5.8" lengthAdjust="spacingAndGlyphs">4</text>
<line x1="406.3" y1="473.3" x2="406.3" y2="476.5" stroke="#111" stroke-width="1.1" />
<text x="406.3" y="487.3" font-size="10" text-anchor="middle" font-weight="normal" font-style="normal" fill="#2a2a2a" textLength="5.8" lengthAdjust="spacingAndGlyphs">6</text>
<line x1="441.6" y1="473.3" x2="441.6" y2="476.5" stroke="#111" stroke-width="1.1" />
<text x="441.6" y="487.3" font-size="10" text-anchor="middle" font-weight="normal" font-style="normal" fill="#2a2a2a" textLength="5.8" lengthAdjust="spacingAndGlyphs">8</text>
<line x1="476.9" y1="473.3" x2="476.9" y2="476.5" stroke="#111" stroke-width="1.1" />
<text x="476.9" y="487.3" font-size="10" text-anchor="middle" font-weight="normal" font-style="normal" fill="#2a2a2a" textLength="10.2" lengthAdjust="spacingAndGlyphs">10</text>
<text x="401.8" y="501.8" font-size="11.2" text-anchor="middle" font-weight="normal" font-style="normal" fill="#2a2a2a" textLength="104.4" lengthAdjust="spacingAndGlyphs" stroke="#2a2a2a" stroke-width="0.2" stroke-linejoin="round">Years since CR without MRD</text>
<line x1="327.8" y1="297.5" x2="341.7" y2="297.5" stroke="#d4435e" stroke-width="1.5" />
<line x1="327.8" y1="306.3" x2="343.5" y2="306.3" stroke="#22638f" stroke-width="1.6" stroke-dasharray="2.9 2"/>
<text x="349.8" y="300.0" font-size="8.5" text-anchor="start" font-weight="normal" font-style="normal" fill="#2a2a2a" textLength="149.4" lengthAdjust="spacingAndGlyphs">MDS EB-2, n = 59, relapses/deaths = 25</text>
<text x="349.8" y="309.2" font-size="8.5" text-anchor="start" font-weight="normal" font-style="normal" fill="#2a2a2a" textLength="161.0" lengthAdjust="spacingAndGlyphs">WHO AML, n = 359, relapses/deaths = 161</text>
<text x="349.8" y="320.5" font-size="8.5" text-anchor="start" font-weight="normal" font-style="normal" fill="#2a2a2a" textLength="31.8" lengthAdjust="spacingAndGlyphs"><tspan font-style="italic">P</tspan> = 0.70</text>
<path d="M304.6,292.0 L306.3,297.8 L307.6,304.0 L309.2,310.0 L310.4,316.0 L311.8,321.5 L313.8,329.0 L316.0,337.0 L319.0,345.0 L322.0,351.0 L326.0,356.0 L330.0,359.5 L335.0,363.0 L340.0,368.5 L344.6,371.5 L349.2,373.8 L353.8,376.9 L358.5,379.2 L363.1,380.4 L369.2,381.2 L375.4,381.9 L378.5,382.7 L386.5,385.2 L398.0,387.1 L403.8,389.0 L413.5,391.0 L423.0,392.3 L451.0,392.3 L451.5,396.0 L464.2,396.0" fill="none" stroke="#9fc0dc" stroke-width="1.9" stroke-linejoin="round" />
<line x1="328.8" y1="356.2" x2="328.8" y2="360.6" stroke="#8fb5d6" stroke-width="1.0" />
<line x1="327.3" y1="358.4" x2="330.3" y2="358.4" stroke="#8fb5d6" stroke-width="1.0" />
<line x1="336.9" y1="362.8" x2="336.9" y2="367.2" stroke="#8fb5d6" stroke-width="1.0" />
<line x1="335.4" y1="365.0" x2="338.4" y2="365.0" stroke="#8fb5d6" stroke-width="1.0" />
<line x1="344.9" y1="369.4" x2="344.9" y2="373.8" stroke="#8fb5d6" stroke-width="1.0" />
<line x1="343.4" y1="371.6" x2="346.4" y2="371.6" stroke="#8fb5d6" stroke-width="1.0" />
<line x1="347.8" y1="370.9" x2="347.8" y2="375.3" stroke="#8fb5d6" stroke-width="1.0" />
<line x1="346.3" y1="373.1" x2="349.3" y2="373.1" stroke="#8fb5d6" stroke-width="1.0" />
<line x1="347.9" y1="371.0" x2="347.9" y2="375.4" stroke="#8fb5d6" stroke-width="1.0" />
<line x1="346.4" y1="373.2" x2="349.4" y2="373.2" stroke="#8fb5d6" stroke-width="1.0" />
<line x1="348.0" y1="371.0" x2="348.0" y2="375.4" stroke="#8fb5d6" stroke-width="1.0" />
<line x1="346.5" y1="373.2" x2="349.5" y2="373.2" stroke="#8fb5d6" stroke-width="1.0" />
<line x1="350.2" y1="372.3" x2="350.2" y2="376.7" stroke="#8fb5d6" stroke-width="1.0" />
<line x1="348.7" y1="374.5" x2="351.7" y2="374.5" stroke="#8fb5d6" stroke-width="1.0" />
<line x1="354.2" y1="374.9" x2="354.2" y2="379.3" stroke="#8fb5d6" stroke-width="1.0" />
<line x1="352.7" y1="377.1" x2="355.7" y2="377.1" stroke="#8fb5d6" stroke-width="1.0" />
<line x1="361.1" y1="377.7" x2="361.1" y2="382.1" stroke="#8fb5d6" stroke-width="1.0" />
<line x1="359.6" y1="379.9" x2="362.6" y2="379.9" stroke="#8fb5d6" stroke-width="1.0" />
<line x1="361.7" y1="377.8" x2="361.7" y2="382.2" stroke="#8fb5d6" stroke-width="1.0" />
<line x1="360.2" y1="380.0" x2="363.2" y2="380.0" stroke="#8fb5d6" stroke-width="1.0" />
<line x1="362.2" y1="378.0" x2="362.2" y2="382.4" stroke="#8fb5d6" stroke-width="1.0" />
<line x1="360.7" y1="380.2" x2="363.7" y2="380.2" stroke="#8fb5d6" stroke-width="1.0" />
<line x1="362.7" y1="378.1" x2="362.7" y2="382.5" stroke="#8fb5d6" stroke-width="1.0" />
<line x1="361.2" y1="380.3" x2="364.2" y2="380.3" stroke="#8fb5d6" stroke-width="1.0" />
<line x1="363.5" y1="378.3" x2="363.5" y2="382.7" stroke="#8fb5d6" stroke-width="1.0" />
<line x1="362.0" y1="380.5" x2="365.0" y2="380.5" stroke="#8fb5d6" stroke-width="1.0" />
<line x1="373.7" y1="379.5" x2="373.7" y2="383.9" stroke="#8fb5d6" stroke-width="1.0" />
<line x1="372.2" y1="381.7" x2="375.2" y2="381.7" stroke="#8fb5d6" stroke-width="1.0" />
<line x1="376.8" y1="380.1" x2="376.8" y2="384.5" stroke="#8fb5d6" stroke-width="1.0" />
<line x1="375.3" y1="382.3" x2="378.3" y2="382.3" stroke="#8fb5d6" stroke-width="1.0" />
<line x1="376.8" y1="380.1" x2="376.8" y2="384.5" stroke="#8fb5d6" stroke-width="1.0" />
<line x1="375.3" y1="382.3" x2="378.3" y2="382.3" stroke="#8fb5d6" stroke-width="1.0" />
<line x1="377.6" y1="380.3" x2="377.6" y2="384.7" stroke="#8fb5d6" stroke-width="1.0" />
<line x1="376.1" y1="382.5" x2="379.1" y2="382.5" stroke="#8fb5d6" stroke-width="1.0" />
<line x1="384.1" y1="382.3" x2="384.1" y2="386.7" stroke="#8fb5d6" stroke-width="1.0" />
<line x1="382.6" y1="384.5" x2="385.6" y2="384.5" stroke="#8fb5d6" stroke-width="1.0" />
<line x1="387.0" y1="383.1" x2="387.0" y2="387.5" stroke="#8fb5d6" stroke-width="1.0" />
<line x1="385.5" y1="385.3" x2="388.5" y2="385.3" stroke="#8fb5d6" stroke-width="1.0" />
<line x1="387.2" y1="383.1" x2="387.2" y2="387.5" stroke="#8fb5d6" stroke-width="1.0" />
<line x1="385.7" y1="385.3" x2="388.7" y2="385.3" stroke="#8fb5d6" stroke-width="1.0" />
<line x1="390.0" y1="383.6" x2="390.0" y2="388.0" stroke="#8fb5d6" stroke-width="1.0" />
<line x1="388.5" y1="385.8" x2="391.5" y2="385.8" stroke="#8fb5d6" stroke-width="1.0" />
<line x1="390.1" y1="383.6" x2="390.1" y2="388.0" stroke="#8fb5d6" stroke-width="1.0" />
<line x1="388.6" y1="385.8" x2="391.6" y2="385.8" stroke="#8fb5d6" stroke-width="1.0" />
<line x1="390.3" y1="383.6" x2="390.3" y2="388.0" stroke="#8fb5d6" stroke-width="1.0" />
<line x1="388.8" y1="385.8" x2="391.8" y2="385.8" stroke="#8fb5d6" stroke-width="1.0" />
<line x1="391.0" y1="383.7" x2="391.0" y2="388.1" stroke="#8fb5d6" stroke-width="1.0" />
<line x1="389.5" y1="385.9" x2="392.5" y2="385.9" stroke="#8fb5d6" stroke-width="1.0" />
<line x1="394.4" y1="384.3" x2="394.4" y2="388.7" stroke="#8fb5d6" stroke-width="1.0" />
<line x1="392.9" y1="386.5" x2="395.9" y2="386.5" stroke="#8fb5d6" stroke-width="1.0" />
<line x1="397.2" y1="384.8" x2="397.2" y2="389.2" stroke="#8fb5d6" stroke-width="1.0" />
<line x1="395.7" y1="387.0" x2="398.7" y2="387.0" stroke="#8fb5d6" stroke-width="1.0" />
<line x1="399.0" y1="385.2" x2="399.0" y2="389.6" stroke="#8fb5d6" stroke-width="1.0" />
<line x1="397.5" y1="387.4" x2="400.5" y2="387.4" stroke="#8fb5d6" stroke-width="1.0" />
<line x1="404.5" y1="386.9" x2="404.5" y2="391.3" stroke="#8fb5d6" stroke-width="1.0" />
<line x1="403.0" y1="389.1" x2="406.0" y2="389.1" stroke="#8fb5d6" stroke-width="1.0" />
<line x1="409.1" y1="387.9" x2="409.1" y2="392.3" stroke="#8fb5d6" stroke-width="1.0" />
<line x1="407.6" y1="390.1" x2="410.6" y2="390.1" stroke="#8fb5d6" stroke-width="1.0" />
<line x1="410.5" y1="388.2" x2="410.5" y2="392.6" stroke="#8fb5d6" stroke-width="1.0" />
<line x1="409.0" y1="390.4" x2="412.0" y2="390.4" stroke="#8fb5d6" stroke-width="1.0" />
<line x1="414.4" y1="388.9" x2="414.4" y2="393.3" stroke="#8fb5d6" stroke-width="1.0" />
<line x1="412.9" y1="391.1" x2="415.9" y2="391.1" stroke="#8fb5d6" stroke-width="1.0" />
<line x1="415.0" y1="389.0" x2="415.0" y2="393.4" stroke="#8fb5d6" stroke-width="1.0" />
<line x1="413.5" y1="391.2" x2="416.5" y2="391.2" stroke="#8fb5d6" stroke-width="1.0" />
<line x1="415.2" y1="389.0" x2="415.2" y2="393.4" stroke="#8fb5d6" stroke-width="1.0" />
<line x1="413.7" y1="391.2" x2="416.7" y2="391.2" stroke="#8fb5d6" stroke-width="1.0" />
<line x1="416.7" y1="389.2" x2="416.7" y2="393.6" stroke="#8fb5d6" stroke-width="1.0" />
<line x1="415.2" y1="391.4" x2="418.2" y2="391.4" stroke="#8fb5d6" stroke-width="1.0" />
<line x1="418.0" y1="389.4" x2="418.0" y2="393.8" stroke="#8fb5d6" stroke-width="1.0" />
<line x1="416.5" y1="391.6" x2="419.5" y2="391.6" stroke="#8fb5d6" stroke-width="1.0" />
<line x1="421.7" y1="389.9" x2="421.7" y2="394.3" stroke="#8fb5d6" stroke-width="1.0" />
<line x1="420.2" y1="392.1" x2="423.2" y2="392.1" stroke="#8fb5d6" stroke-width="1.0" />
<line x1="425.6" y1="390.1" x2="425.6" y2="394.5" stroke="#8fb5d6" stroke-width="1.0" />
<line x1="424.1" y1="392.3" x2="427.1" y2="392.3" stroke="#8fb5d6" stroke-width="1.0" />
<line x1="427.3" y1="390.1" x2="427.3" y2="394.5" stroke="#8fb5d6" stroke-width="1.0" />
<line x1="425.8" y1="392.3" x2="428.8" y2="392.3" stroke="#8fb5d6" stroke-width="1.0" />
<line x1="427.5" y1="390.1" x2="427.5" y2="394.5" stroke="#8fb5d6" stroke-width="1.0" />
<line x1="426.0" y1="392.3" x2="429.0" y2="392.3" stroke="#8fb5d6" stroke-width="1.0" />
<line x1="428.4" y1="390.1" x2="428.4" y2="394.5" stroke="#8fb5d6" stroke-width="1.0" />
<line x1="426.9" y1="392.3" x2="429.9" y2="392.3" stroke="#8fb5d6" stroke-width="1.0" />
<line x1="430.4" y1="390.1" x2="430.4" y2="394.5" stroke="#8fb5d6" stroke-width="1.0" />
<line x1="428.9" y1="392.3" x2="431.9" y2="392.3" stroke="#8fb5d6" stroke-width="1.0" />
<line x1="431.0" y1="390.1" x2="431.0" y2="394.5" stroke="#8fb5d6" stroke-width="1.0" />
<line x1="429.5" y1="392.3" x2="432.5" y2="392.3" stroke="#8fb5d6" stroke-width="1.0" />
<line x1="435.1" y1="390.1" x2="435.1" y2="394.5" stroke="#8fb5d6" stroke-width="1.0" />
<line x1="433.6" y1="392.3" x2="436.6" y2="392.3" stroke="#8fb5d6" stroke-width="1.0" />
<line x1="435.3" y1="390.1" x2="435.3" y2="394.5" stroke="#8fb5d6" stroke-width="1.0" />
<line x1="433.8" y1="392.3" x2="436.8" y2="392.3" stroke="#8fb5d6" stroke-width="1.0" />
<line x1="435.6" y1="390.1" x2="435.6" y2="394.5" stroke="#8fb5d6" stroke-width="1.0" />
<line x1="434.1" y1="392.3" x2="437.1" y2="392.3" stroke="#8fb5d6" stroke-width="1.0" />
<line x1="436.3" y1="390.1" x2="436.3" y2="394.5" stroke="#8fb5d6" stroke-width="1.0" />
<line x1="434.8" y1="392.3" x2="437.8" y2="392.3" stroke="#8fb5d6" stroke-width="1.0" />
<line x1="437.7" y1="390.1" x2="437.7" y2="394.5" stroke="#8fb5d6" stroke-width="1.0" />
<line x1="436.2" y1="392.3" x2="439.2" y2="392.3" stroke="#8fb5d6" stroke-width="1.0" />
<line x1="438.1" y1="390.1" x2="438.1" y2="394.5" stroke="#8fb5d6" stroke-width="1.0" />
<line x1="436.6" y1="392.3" x2="439.6" y2="392.3" stroke="#8fb5d6" stroke-width="1.0" />
<line x1="439.2" y1="390.1" x2="439.2" y2="394.5" stroke="#8fb5d6" stroke-width="1.0" />
<line x1="437.7" y1="392.3" x2="440.7" y2="392.3" stroke="#8fb5d6" stroke-width="1.0" />
<line x1="439.3" y1="390.1" x2="439.3" y2="394.5" stroke="#8fb5d6" stroke-width="1.0" />
<line x1="437.8" y1="392.3" x2="440.8" y2="392.3" stroke="#8fb5d6" stroke-width="1.0" />
<line x1="440.8" y1="390.1" x2="440.8" y2="394.5" stroke="#8fb5d6" stroke-width="1.0" />
<line x1="439.3" y1="392.3" x2="442.3" y2="392.3" stroke="#8fb5d6" stroke-width="1.0" />
<line x1="441.1" y1="390.1" x2="441.1" y2="394.5" stroke="#8fb5d6" stroke-width="1.0" />
<line x1="439.6" y1="392.3" x2="442.6" y2="392.3" stroke="#8fb5d6" stroke-width="1.0" />
<line x1="441.9" y1="390.1" x2="441.9" y2="394.5" stroke="#8fb5d6" stroke-width="1.0" />
<line x1="440.4" y1="392.3" x2="443.4" y2="392.3" stroke="#8fb5d6" stroke-width="1.0" />
<line x1="444.7" y1="390.1" x2="444.7" y2="394.5" stroke="#8fb5d6" stroke-width="1.0" />
<line x1="443.2" y1="392.3" x2="446.2" y2="392.3" stroke="#8fb5d6" stroke-width="1.0" />
<line x1="445.7" y1="390.1" x2="445.7" y2="394.5" stroke="#8fb5d6" stroke-width="1.0" />
<line x1="444.2" y1="392.3" x2="447.2" y2="392.3" stroke="#8fb5d6" stroke-width="1.0" />
<line x1="448.9" y1="390.1" x2="448.9" y2="394.5" stroke="#8fb5d6" stroke-width="1.0" />
<line x1="447.4" y1="392.3" x2="450.4" y2="392.3" stroke="#8fb5d6" stroke-width="1.0" />
<line x1="451.5" y1="393.8" x2="451.5" y2="398.2" stroke="#8fb5d6" stroke-width="1.0" />
<line x1="450.0" y1="396.0" x2="453.0" y2="396.0" stroke="#8fb5d6" stroke-width="1.0" />
<line x1="453.3" y1="393.8" x2="453.3" y2="398.2" stroke="#8fb5d6" stroke-width="1.0" />
<line x1="451.8" y1="396.0" x2="454.8" y2="396.0" stroke="#8fb5d6" stroke-width="1.0" />
<line x1="457.4" y1="393.8" x2="457.4" y2="398.2" stroke="#8fb5d6" stroke-width="1.0" />
<line x1="455.9" y1="396.0" x2="458.9" y2="396.0" stroke="#8fb5d6" stroke-width="1.0" />
<line x1="460.3" y1="393.8" x2="460.3" y2="398.2" stroke="#8fb5d6" stroke-width="1.0" />
<line x1="458.8" y1="396.0" x2="461.8" y2="396.0" stroke="#8fb5d6" stroke-width="1.0" />
<line x1="486" y1="398.1" x2="486" y2="402.7" stroke="#8fb5d6" stroke-width="1.0" />
<line x1="484.4" y1="400.4" x2="487.6" y2="400.4" stroke="#8fb5d6" stroke-width="1.0" />
<line x1="488" y1="398.1" x2="488" y2="402.7" stroke="#8fb5d6" stroke-width="1.0" />
<line x1="486.4" y1="400.4" x2="489.6" y2="400.4" stroke="#8fb5d6" stroke-width="1.0" />
<line x1="490" y1="398.1" x2="490" y2="402.7" stroke="#8fb5d6" stroke-width="1.0" />
<line x1="488.4" y1="400.4" x2="491.6" y2="400.4" stroke="#8fb5d6" stroke-width="1.0" />
<line x1="492" y1="398.1" x2="492" y2="402.7" stroke="#8fb5d6" stroke-width="1.0" />
<line x1="490.4" y1="400.4" x2="493.6" y2="400.4" stroke="#8fb5d6" stroke-width="1.0" />
<path d="M305.2,292.0 L306.0,299.1 L307.5,305.3 L309.1,311.6 L309.9,321.0 L311.4,325.7 L312.2,330.4 L315.3,332.0 L316.9,336.6 L317.7,346.0 L319.3,349.2 L320.0,353.9 L323.2,357.0 L325.0,358.5 L328.1,358.5 L328.8,360.8 L331.9,360.8 L332.7,364.6 L337.3,364.6 L338.1,367.4 L349.6,367.4 L349.6,371.2 L355.8,371.2 L355.8,374.3 L362.7,374.3 L362.7,378.6 L482.7,378.6" fill="none" stroke="#d4435e" stroke-width="1.4" stroke-linejoin="round" />
<line x1="306" y1="296.8" x2="306" y2="301.4" stroke="#e07890" stroke-width="0.9" />
<line x1="309" y1="308.9" x2="309" y2="313.5" stroke="#e07890" stroke-width="0.9" />
<line x1="315" y1="329.5" x2="315" y2="334.1" stroke="#e07890" stroke-width="0.9" />
<line x1="320" y1="351.6" x2="320" y2="356.2" stroke="#e07890" stroke-width="0.9" />
<line x1="327" y1="356.2" x2="327" y2="360.8" stroke="#e07890" stroke-width="0.9" />
<line x1="331" y1="358.5" x2="331" y2="363.1" stroke="#e07890" stroke-width="0.9" />
<line x1="343" y1="365.1" x2="343" y2="369.7" stroke="#e07890" stroke-width="0.9" />
<line x1="366" y1="376.3" x2="366" y2="380.9" stroke="#e07890" stroke-width="0.9" />
<line x1="368" y1="376.3" x2="368" y2="380.9" stroke="#e07890" stroke-width="0.9" />
<line x1="371" y1="376.3" x2="371" y2="380.9" stroke="#e07890" stroke-width="0.9" />
<line x1="375" y1="376.3" x2="375" y2="380.9" stroke="#e07890" stroke-width="0.9" />
<line x1="379" y1="376.3" x2="379" y2="380.9" stroke="#e07890" stroke-width="0.9" />
<line x1="382" y1="376.3" x2="382" y2="380.9" stroke="#e07890" stroke-width="0.9" />
<line x1="388" y1="376.3" x2="388" y2="380.9" stroke="#e07890" stroke-width="0.9" />
<line x1="392" y1="376.3" x2="392" y2="380.9" stroke="#e07890" stroke-width="0.9" />
<line x1="394" y1="376.3" x2="394" y2="380.9" stroke="#e07890" stroke-width="0.9" />
<line x1="397" y1="376.3" x2="397" y2="380.9" stroke="#e07890" stroke-width="0.9" />
<line x1="401" y1="376.3" x2="401" y2="380.9" stroke="#e07890" stroke-width="0.9" />
<line x1="416" y1="376.3" x2="416" y2="380.9" stroke="#e07890" stroke-width="0.9" />
<line x1="428" y1="376.3" x2="428" y2="380.9" stroke="#e07890" stroke-width="0.9" />
<line x1="440" y1="376.3" x2="440" y2="380.9" stroke="#e07890" stroke-width="0.9" />
<line x1="442" y1="376.3" x2="442" y2="380.9" stroke="#e07890" stroke-width="0.9" />
<line x1="446" y1="376.3" x2="446" y2="380.9" stroke="#e07890" stroke-width="0.9" />
<line x1="469" y1="376.3" x2="469" y2="380.9" stroke="#e07890" stroke-width="0.9" />
<line x1="482" y1="376.3" x2="482" y2="380.9" stroke="#e07890" stroke-width="0.9" />
<path d="M301.3,292.0 L303.6,300.6 L305.2,310.0 L307.5,321.0 L309.9,328.8 L313.0,336.6 L316.1,342.9 L318.5,349.2 L321.6,356.2 L326.3,360.1 L331.2,364.6 L337.3,370.0 L341.5,373.8 L345.4,376.5 L349.2,379.6 L353.5,380.8 L357.7,381.2 L363.1,381.2 L366.9,381.9 L370.0,383.1 L374.6,383.1 L377.7,386.2 L386.5,387.1 L400.0,389.6 L409.6,392.3 L423.0,392.3 L438.5,395.8 L447.5,396.5 L448.0,400.4 L494.2,400.4" fill="none" stroke="#22638f" stroke-width="1.5" stroke-linejoin="round" stroke-dasharray="4 2.4"/>
</svg>
</body></html>
